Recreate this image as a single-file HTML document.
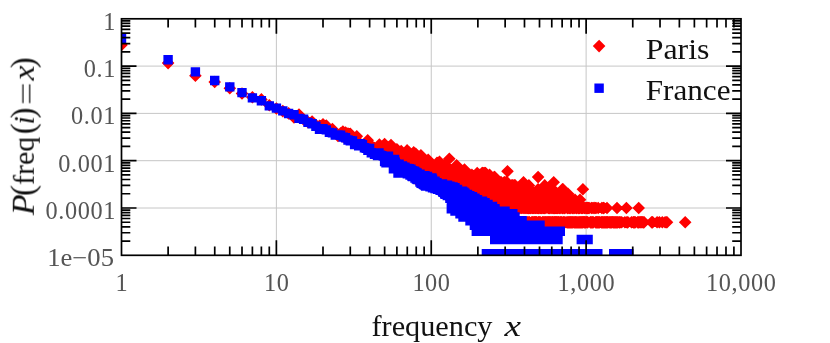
<!DOCTYPE html>
<html><head><meta charset="utf-8"><title>chart</title>
<style>
html,body{margin:0;padding:0;background:#fff;}
body{width:830px;height:343px;overflow:hidden;}
svg{display:block;font-family:"Liberation Serif",serif;}
.t{filter:grayscale(1);}
</style></head><body>
<svg width="830" height="343" viewBox="0 0 830 343">
<rect width="830" height="343" fill="#fff"/>
<defs><clipPath id="c"><rect x="121.5" y="18.8" width="619.5" height="236.5"/></clipPath></defs>
<path d="M276.38 18.8V255.3M431.25 18.8V255.3M586.12 18.8V255.3M121.5 66.1H741.0M121.5 113.4H741.0M121.5 160.7H741.0M121.5 208.0H741.0" stroke="#c6c6c6" stroke-width="1" fill="none"/>
<g clip-path="url(#c)">
<path d="M121.5 38.6l6.3 6.3l-6.3 6.3l-6.3-6.3zM168.1 56.8l6.3 6.3l-6.3 6.3l-6.3-6.3zM195.4 69.5l6.3 6.3l-6.3 6.3l-6.3-6.3zM214.7 75.7l6.3 6.3l-6.3 6.3l-6.3-6.3zM229.8 82.0l6.3 6.3l-6.3 6.3l-6.3-6.3zM242.0 87.2l6.3 6.3l-6.3 6.3l-6.3-6.3zM252.4 90.9l6.3 6.3l-6.3 6.3l-6.3-6.3zM261.4 93.1l6.3 6.3l-6.3 6.3l-6.3-6.3zM269.3 99.0l6.3 6.3l-6.3 6.3l-6.3-6.3zM276.4 102.2l6.3 6.3l-6.3 6.3l-6.3-6.3zM282.8 104.8l6.3 6.3l-6.3 6.3l-6.3-6.3zM288.6 107.1l6.3 6.3l-6.3 6.3l-6.3-6.3zM294.0 111.2l6.3 6.3l-6.3 6.3l-6.3-6.3zM299.0 108.3l6.3 6.3l-6.3 6.3l-6.3-6.3zM303.6 113.1l6.3 6.3l-6.3 6.3l-6.3-6.3zM308.0 115.8l6.3 6.3l-6.3 6.3l-6.3-6.3zM312.1 115.2l6.3 6.3l-6.3 6.3l-6.3-6.3zM315.9 118.8l6.3 6.3l-6.3 6.3l-6.3-6.3zM319.5 119.6l6.3 6.3l-6.3 6.3l-6.3-6.3zM323.0 117.9l6.3 6.3l-6.3 6.3l-6.3-6.3zM326.3 119.2l6.3 6.3l-6.3 6.3l-6.3-6.3zM329.4 122.8l6.3 6.3l-6.3 6.3l-6.3-6.3zM332.4 122.8l6.3 6.3l-6.3 6.3l-6.3-6.3zM335.3 125.9l6.3 6.3l-6.3 6.3l-6.3-6.3zM338.0 129.6l6.3 6.3l-6.3 6.3l-6.3-6.3zM340.6 127.0l6.3 6.3l-6.3 6.3l-6.3-6.3zM343.2 130.5l6.3 6.3l-6.3 6.3l-6.3-6.3zM345.6 126.2l6.3 6.3l-6.3 6.3l-6.3-6.3zM348.0 127.2l6.3 6.3l-6.3 6.3l-6.3-6.3zM350.3 127.5l6.3 6.3l-6.3 6.3l-6.3-6.3zM356.7 134.4l6.3 6.3l-6.3 6.3l-6.3-6.3zM358.7 137.7l6.3 6.3l-6.3 6.3l-6.3-6.3zM360.6 137.7l6.3 6.3l-6.3 6.3l-6.3-6.3zM362.5 140.2l6.3 6.3l-6.3 6.3l-6.3-6.3zM364.4 138.2l6.3 6.3l-6.3 6.3l-6.3-6.3zM366.2 137.3l6.3 6.3l-6.3 6.3l-6.3-6.3zM367.9 142.3l6.3 6.3l-6.3 6.3l-6.3-6.3zM371.3 139.2l6.3 6.3l-6.3 6.3l-6.3-6.3zM372.9 143.5l6.3 6.3l-6.3 6.3l-6.3-6.3zM374.5 141.8l6.3 6.3l-6.3 6.3l-6.3-6.3zM376.0 142.9l6.3 6.3l-6.3 6.3l-6.3-6.3zM377.5 143.5l6.3 6.3l-6.3 6.3l-6.3-6.3zM379.0 142.9l6.3 6.3l-6.3 6.3l-6.3-6.3zM381.9 148.2l6.3 6.3l-6.3 6.3l-6.3-6.3zM383.3 144.7l6.3 6.3l-6.3 6.3l-6.3-6.3zM384.6 137.7l6.3 6.3l-6.3 6.3l-6.3-6.3zM386.0 144.1l6.3 6.3l-6.3 6.3l-6.3-6.3zM387.3 144.1l6.3 6.3l-6.3 6.3l-6.3-6.3zM388.5 144.7l6.3 6.3l-6.3 6.3l-6.3-6.3zM389.8 148.2l6.3 6.3l-6.3 6.3l-6.3-6.3zM391.0 153.4l6.3 6.3l-6.3 6.3l-6.3-6.3zM392.3 147.5l6.3 6.3l-6.3 6.3l-6.3-6.3zM393.4 147.5l6.3 6.3l-6.3 6.3l-6.3-6.3zM394.6 146.1l6.3 6.3l-6.3 6.3l-6.3-6.3zM395.8 150.7l6.3 6.3l-6.3 6.3l-6.3-6.3zM396.9 142.9l6.3 6.3l-6.3 6.3l-6.3-6.3zM399.1 152.4l6.3 6.3l-6.3 6.3l-6.3-6.3zM400.2 146.8l6.3 6.3l-6.3 6.3l-6.3-6.3zM401.2 150.7l6.3 6.3l-6.3 6.3l-6.3-6.3zM402.3 150.7l6.3 6.3l-6.3 6.3l-6.3-6.3zM404.3 149.8l6.3 6.3l-6.3 6.3l-6.3-6.3zM405.3 152.4l6.3 6.3l-6.3 6.3l-6.3-6.3zM406.3 153.4l6.3 6.3l-6.3 6.3l-6.3-6.3zM407.3 160.3l6.3 6.3l-6.3 6.3l-6.3-6.3zM408.2 157.7l6.3 6.3l-6.3 6.3l-6.3-6.3zM409.2 146.1l6.3 6.3l-6.3 6.3l-6.3-6.3zM410.1 148.2l6.3 6.3l-6.3 6.3l-6.3-6.3zM411.0 152.4l6.3 6.3l-6.3 6.3l-6.3-6.3zM411.9 154.4l6.3 6.3l-6.3 6.3l-6.3-6.3zM412.8 154.4l6.3 6.3l-6.3 6.3l-6.3-6.3zM413.7 146.1l6.3 6.3l-6.3 6.3l-6.3-6.3zM414.5 161.7l6.3 6.3l-6.3 6.3l-6.3-6.3zM415.4 155.5l6.3 6.3l-6.3 6.3l-6.3-6.3zM416.2 173.2l6.3 6.3l-6.3 6.3l-6.3-6.3zM417.1 159.0l6.3 6.3l-6.3 6.3l-6.3-6.3zM417.9 155.5l6.3 6.3l-6.3 6.3l-6.3-6.3zM418.7 164.9l6.3 6.3l-6.3 6.3l-6.3-6.3zM419.5 159.0l6.3 6.3l-6.3 6.3l-6.3-6.3zM420.3 153.4l6.3 6.3l-6.3 6.3l-6.3-6.3zM421.1 151.5l6.3 6.3l-6.3 6.3l-6.3-6.3zM421.9 161.7l6.3 6.3l-6.3 6.3l-6.3-6.3zM422.7 166.7l6.3 6.3l-6.3 6.3l-6.3-6.3zM423.4 154.4l6.3 6.3l-6.3 6.3l-6.3-6.3zM424.9 157.7l6.3 6.3l-6.3 6.3l-6.3-6.3zM426.4 159.0l6.3 6.3l-6.3 6.3l-6.3-6.3zM427.1 161.7l6.3 6.3l-6.3 6.3l-6.3-6.3zM427.8 164.9l6.3 6.3l-6.3 6.3l-6.3-6.3zM428.5 163.2l6.3 6.3l-6.3 6.3l-6.3-6.3zM429.2 155.5l6.3 6.3l-6.3 6.3l-6.3-6.3zM429.9 164.9l6.3 6.3l-6.3 6.3l-6.3-6.3zM430.6 156.6l6.3 6.3l-6.3 6.3l-6.3-6.3zM431.2 156.6l6.3 6.3l-6.3 6.3l-6.3-6.3zM431.9 160.3l6.3 6.3l-6.3 6.3l-6.3-6.3zM432.6 166.7l6.3 6.3l-6.3 6.3l-6.3-6.3zM433.2 160.3l6.3 6.3l-6.3 6.3l-6.3-6.3zM433.9 160.3l6.3 6.3l-6.3 6.3l-6.3-6.3zM434.5 168.6l6.3 6.3l-6.3 6.3l-6.3-6.3zM435.2 168.6l6.3 6.3l-6.3 6.3l-6.3-6.3zM435.8 168.6l6.3 6.3l-6.3 6.3l-6.3-6.3zM436.4 161.7l6.3 6.3l-6.3 6.3l-6.3-6.3zM437.0 156.6l6.3 6.3l-6.3 6.3l-6.3-6.3zM437.7 163.2l6.3 6.3l-6.3 6.3l-6.3-6.3zM438.3 159.0l6.3 6.3l-6.3 6.3l-6.3-6.3zM438.9 176.0l6.3 6.3l-6.3 6.3l-6.3-6.3zM439.5 155.5l6.3 6.3l-6.3 6.3l-6.3-6.3zM440.1 168.6l6.3 6.3l-6.3 6.3l-6.3-6.3zM440.7 161.7l6.3 6.3l-6.3 6.3l-6.3-6.3zM441.2 159.0l6.3 6.3l-6.3 6.3l-6.3-6.3zM441.8 161.7l6.3 6.3l-6.3 6.3l-6.3-6.3zM442.4 164.9l6.3 6.3l-6.3 6.3l-6.3-6.3zM443.0 166.7l6.3 6.3l-6.3 6.3l-6.3-6.3zM443.5 161.7l6.3 6.3l-6.3 6.3l-6.3-6.3zM444.1 173.2l6.3 6.3l-6.3 6.3l-6.3-6.3zM444.6 159.0l6.3 6.3l-6.3 6.3l-6.3-6.3zM445.2 160.3l6.3 6.3l-6.3 6.3l-6.3-6.3zM446.3 161.7l6.3 6.3l-6.3 6.3l-6.3-6.3zM446.8 163.2l6.3 6.3l-6.3 6.3l-6.3-6.3zM447.3 168.6l6.3 6.3l-6.3 6.3l-6.3-6.3zM448.4 168.6l6.3 6.3l-6.3 6.3l-6.3-6.3zM448.9 161.7l6.3 6.3l-6.3 6.3l-6.3-6.3zM449.4 168.6l6.3 6.3l-6.3 6.3l-6.3-6.3zM449.9 176.0l6.3 6.3l-6.3 6.3l-6.3-6.3zM450.9 193.4l6.3 6.3l-6.3 6.3l-6.3-6.3zM451.4 187.5l6.3 6.3l-6.3 6.3l-6.3-6.3zM451.9 168.6l6.3 6.3l-6.3 6.3l-6.3-6.3zM452.4 166.7l6.3 6.3l-6.3 6.3l-6.3-6.3zM452.9 179.1l6.3 6.3l-6.3 6.3l-6.3-6.3zM453.4 182.9l6.3 6.3l-6.3 6.3l-6.3-6.3zM453.9 168.6l6.3 6.3l-6.3 6.3l-6.3-6.3zM454.4 187.5l6.3 6.3l-6.3 6.3l-6.3-6.3zM454.8 163.2l6.3 6.3l-6.3 6.3l-6.3-6.3zM455.3 176.0l6.3 6.3l-6.3 6.3l-6.3-6.3zM455.8 173.2l6.3 6.3l-6.3 6.3l-6.3-6.3zM456.7 187.5l6.3 6.3l-6.3 6.3l-6.3-6.3zM457.2 173.2l6.3 6.3l-6.3 6.3l-6.3-6.3zM457.6 179.1l6.3 6.3l-6.3 6.3l-6.3-6.3zM458.5 173.2l6.3 6.3l-6.3 6.3l-6.3-6.3zM459.0 164.9l6.3 6.3l-6.3 6.3l-6.3-6.3zM459.4 170.8l6.3 6.3l-6.3 6.3l-6.3-6.3zM459.9 179.1l6.3 6.3l-6.3 6.3l-6.3-6.3zM460.3 173.2l6.3 6.3l-6.3 6.3l-6.3-6.3zM460.7 182.9l6.3 6.3l-6.3 6.3l-6.3-6.3zM461.2 182.9l6.3 6.3l-6.3 6.3l-6.3-6.3zM461.6 176.0l6.3 6.3l-6.3 6.3l-6.3-6.3zM462.0 168.6l6.3 6.3l-6.3 6.3l-6.3-6.3zM462.4 164.9l6.3 6.3l-6.3 6.3l-6.3-6.3zM462.9 179.1l6.3 6.3l-6.3 6.3l-6.3-6.3zM463.3 187.5l6.3 6.3l-6.3 6.3l-6.3-6.3zM463.7 173.2l6.3 6.3l-6.3 6.3l-6.3-6.3zM464.1 173.2l6.3 6.3l-6.3 6.3l-6.3-6.3zM464.5 163.2l6.3 6.3l-6.3 6.3l-6.3-6.3zM464.9 170.8l6.3 6.3l-6.3 6.3l-6.3-6.3zM465.3 176.0l6.3 6.3l-6.3 6.3l-6.3-6.3zM465.7 179.1l6.3 6.3l-6.3 6.3l-6.3-6.3zM466.1 173.2l6.3 6.3l-6.3 6.3l-6.3-6.3zM466.5 179.1l6.3 6.3l-6.3 6.3l-6.3-6.3zM466.9 176.0l6.3 6.3l-6.3 6.3l-6.3-6.3zM467.3 170.8l6.3 6.3l-6.3 6.3l-6.3-6.3zM467.7 168.6l6.3 6.3l-6.3 6.3l-6.3-6.3zM468.1 187.5l6.3 6.3l-6.3 6.3l-6.3-6.3zM468.5 176.0l6.3 6.3l-6.3 6.3l-6.3-6.3zM468.9 182.9l6.3 6.3l-6.3 6.3l-6.3-6.3zM469.3 173.2l6.3 6.3l-6.3 6.3l-6.3-6.3zM470.0 168.6l6.3 6.3l-6.3 6.3l-6.3-6.3zM470.4 176.0l6.3 6.3l-6.3 6.3l-6.3-6.3zM470.8 201.7l6.3 6.3l-6.3 6.3l-6.3-6.3zM471.2 179.1l6.3 6.3l-6.3 6.3l-6.3-6.3zM471.5 179.1l6.3 6.3l-6.3 6.3l-6.3-6.3zM471.9 168.6l6.3 6.3l-6.3 6.3l-6.3-6.3zM472.3 170.8l6.3 6.3l-6.3 6.3l-6.3-6.3zM472.6 179.1l6.3 6.3l-6.3 6.3l-6.3-6.3zM473.0 182.9l6.3 6.3l-6.3 6.3l-6.3-6.3zM473.4 182.9l6.3 6.3l-6.3 6.3l-6.3-6.3zM473.7 176.0l6.3 6.3l-6.3 6.3l-6.3-6.3zM474.1 179.1l6.3 6.3l-6.3 6.3l-6.3-6.3zM474.4 179.1l6.3 6.3l-6.3 6.3l-6.3-6.3zM474.8 176.0l6.3 6.3l-6.3 6.3l-6.3-6.3zM475.1 187.5l6.3 6.3l-6.3 6.3l-6.3-6.3zM475.5 176.0l6.3 6.3l-6.3 6.3l-6.3-6.3zM475.8 182.9l6.3 6.3l-6.3 6.3l-6.3-6.3zM476.2 179.1l6.3 6.3l-6.3 6.3l-6.3-6.3zM476.5 176.0l6.3 6.3l-6.3 6.3l-6.3-6.3zM476.9 179.1l6.3 6.3l-6.3 6.3l-6.3-6.3zM477.2 166.7l6.3 6.3l-6.3 6.3l-6.3-6.3zM477.5 173.2l6.3 6.3l-6.3 6.3l-6.3-6.3zM477.9 176.0l6.3 6.3l-6.3 6.3l-6.3-6.3zM478.2 182.9l6.3 6.3l-6.3 6.3l-6.3-6.3zM478.5 182.9l6.3 6.3l-6.3 6.3l-6.3-6.3zM479.2 168.6l6.3 6.3l-6.3 6.3l-6.3-6.3zM479.5 179.1l6.3 6.3l-6.3 6.3l-6.3-6.3zM479.9 179.1l6.3 6.3l-6.3 6.3l-6.3-6.3zM480.5 187.5l6.3 6.3l-6.3 6.3l-6.3-6.3zM481.2 179.1l6.3 6.3l-6.3 6.3l-6.3-6.3zM482.1 166.7l6.3 6.3l-6.3 6.3l-6.3-6.3zM482.4 179.1l6.3 6.3l-6.3 6.3l-6.3-6.3zM482.7 166.7l6.3 6.3l-6.3 6.3l-6.3-6.3zM483.0 176.0l6.3 6.3l-6.3 6.3l-6.3-6.3zM483.4 193.4l6.3 6.3l-6.3 6.3l-6.3-6.3zM483.7 182.9l6.3 6.3l-6.3 6.3l-6.3-6.3zM484.0 182.9l6.3 6.3l-6.3 6.3l-6.3-6.3zM484.3 166.7l6.3 6.3l-6.3 6.3l-6.3-6.3zM484.6 170.8l6.3 6.3l-6.3 6.3l-6.3-6.3zM484.9 182.9l6.3 6.3l-6.3 6.3l-6.3-6.3zM485.2 176.0l6.3 6.3l-6.3 6.3l-6.3-6.3zM485.5 166.7l6.3 6.3l-6.3 6.3l-6.3-6.3zM485.8 193.4l6.3 6.3l-6.3 6.3l-6.3-6.3zM486.1 173.2l6.3 6.3l-6.3 6.3l-6.3-6.3zM486.4 201.7l6.3 6.3l-6.3 6.3l-6.3-6.3zM486.7 173.2l6.3 6.3l-6.3 6.3l-6.3-6.3zM487.0 173.2l6.3 6.3l-6.3 6.3l-6.3-6.3zM487.3 182.9l6.3 6.3l-6.3 6.3l-6.3-6.3zM487.6 170.8l6.3 6.3l-6.3 6.3l-6.3-6.3zM487.9 179.1l6.3 6.3l-6.3 6.3l-6.3-6.3zM488.1 176.0l6.3 6.3l-6.3 6.3l-6.3-6.3zM488.4 179.1l6.3 6.3l-6.3 6.3l-6.3-6.3zM488.7 173.2l6.3 6.3l-6.3 6.3l-6.3-6.3zM489.3 187.5l6.3 6.3l-6.3 6.3l-6.3-6.3zM489.6 168.6l6.3 6.3l-6.3 6.3l-6.3-6.3zM489.9 193.4l6.3 6.3l-6.3 6.3l-6.3-6.3zM490.1 182.9l6.3 6.3l-6.3 6.3l-6.3-6.3zM490.4 176.0l6.3 6.3l-6.3 6.3l-6.3-6.3zM490.7 193.4l6.3 6.3l-6.3 6.3l-6.3-6.3zM491.0 176.0l6.3 6.3l-6.3 6.3l-6.3-6.3zM491.2 176.0l6.3 6.3l-6.3 6.3l-6.3-6.3zM491.5 187.5l6.3 6.3l-6.3 6.3l-6.3-6.3zM491.8 215.9l6.3 6.3l-6.3 6.3l-6.3-6.3zM492.1 182.9l6.3 6.3l-6.3 6.3l-6.3-6.3zM492.3 173.2l6.3 6.3l-6.3 6.3l-6.3-6.3zM492.6 193.4l6.3 6.3l-6.3 6.3l-6.3-6.3zM492.9 187.5l6.3 6.3l-6.3 6.3l-6.3-6.3zM493.1 187.5l6.3 6.3l-6.3 6.3l-6.3-6.3zM493.4 193.4l6.3 6.3l-6.3 6.3l-6.3-6.3zM493.7 201.7l6.3 6.3l-6.3 6.3l-6.3-6.3zM493.9 193.4l6.3 6.3l-6.3 6.3l-6.3-6.3zM494.2 170.8l6.3 6.3l-6.3 6.3l-6.3-6.3zM494.5 182.9l6.3 6.3l-6.3 6.3l-6.3-6.3zM494.7 170.8l6.3 6.3l-6.3 6.3l-6.3-6.3zM495.0 179.1l6.3 6.3l-6.3 6.3l-6.3-6.3zM495.3 187.5l6.3 6.3l-6.3 6.3l-6.3-6.3zM495.5 201.7l6.3 6.3l-6.3 6.3l-6.3-6.3zM495.8 187.5l6.3 6.3l-6.3 6.3l-6.3-6.3zM496.0 187.5l6.3 6.3l-6.3 6.3l-6.3-6.3zM496.3 193.4l6.3 6.3l-6.3 6.3l-6.3-6.3zM496.8 187.5l6.3 6.3l-6.3 6.3l-6.3-6.3zM497.1 176.0l6.3 6.3l-6.3 6.3l-6.3-6.3zM497.3 179.1l6.3 6.3l-6.3 6.3l-6.3-6.3zM497.6 182.9l6.3 6.3l-6.3 6.3l-6.3-6.3zM497.8 201.7l6.3 6.3l-6.3 6.3l-6.3-6.3zM498.1 187.5l6.3 6.3l-6.3 6.3l-6.3-6.3zM498.3 176.0l6.3 6.3l-6.3 6.3l-6.3-6.3zM498.6 182.9l6.3 6.3l-6.3 6.3l-6.3-6.3zM498.8 215.9l6.3 6.3l-6.3 6.3l-6.3-6.3zM499.0 176.0l6.3 6.3l-6.3 6.3l-6.3-6.3zM499.3 179.1l6.3 6.3l-6.3 6.3l-6.3-6.3zM499.5 179.1l6.3 6.3l-6.3 6.3l-6.3-6.3zM499.8 176.0l6.3 6.3l-6.3 6.3l-6.3-6.3zM500.0 182.9l6.3 6.3l-6.3 6.3l-6.3-6.3zM500.3 201.7l6.3 6.3l-6.3 6.3l-6.3-6.3zM500.5 182.9l6.3 6.3l-6.3 6.3l-6.3-6.3zM501.0 201.7l6.3 6.3l-6.3 6.3l-6.3-6.3zM501.2 176.0l6.3 6.3l-6.3 6.3l-6.3-6.3zM501.5 182.9l6.3 6.3l-6.3 6.3l-6.3-6.3zM501.7 179.1l6.3 6.3l-6.3 6.3l-6.3-6.3zM501.9 201.7l6.3 6.3l-6.3 6.3l-6.3-6.3zM502.2 193.4l6.3 6.3l-6.3 6.3l-6.3-6.3zM502.4 182.9l6.3 6.3l-6.3 6.3l-6.3-6.3zM502.6 215.9l6.3 6.3l-6.3 6.3l-6.3-6.3zM502.9 179.1l6.3 6.3l-6.3 6.3l-6.3-6.3zM503.1 187.5l6.3 6.3l-6.3 6.3l-6.3-6.3zM503.3 187.5l6.3 6.3l-6.3 6.3l-6.3-6.3zM503.6 201.7l6.3 6.3l-6.3 6.3l-6.3-6.3zM503.8 193.4l6.3 6.3l-6.3 6.3l-6.3-6.3zM504.2 176.0l6.3 6.3l-6.3 6.3l-6.3-6.3zM504.5 176.0l6.3 6.3l-6.3 6.3l-6.3-6.3zM504.9 193.4l6.3 6.3l-6.3 6.3l-6.3-6.3zM505.1 187.5l6.3 6.3l-6.3 6.3l-6.3-6.3zM505.4 215.9l6.3 6.3l-6.3 6.3l-6.3-6.3zM505.6 182.9l6.3 6.3l-6.3 6.3l-6.3-6.3zM506.0 176.0l6.3 6.3l-6.3 6.3l-6.3-6.3zM506.5 179.1l6.3 6.3l-6.3 6.3l-6.3-6.3zM506.7 193.4l6.3 6.3l-6.3 6.3l-6.3-6.3zM506.9 193.4l6.3 6.3l-6.3 6.3l-6.3-6.3zM507.1 176.0l6.3 6.3l-6.3 6.3l-6.3-6.3zM507.3 193.4l6.3 6.3l-6.3 6.3l-6.3-6.3zM507.6 215.9l6.3 6.3l-6.3 6.3l-6.3-6.3zM508.0 193.4l6.3 6.3l-6.3 6.3l-6.3-6.3zM508.2 187.5l6.3 6.3l-6.3 6.3l-6.3-6.3zM508.6 201.7l6.3 6.3l-6.3 6.3l-6.3-6.3zM509.1 179.1l6.3 6.3l-6.3 6.3l-6.3-6.3zM509.3 215.9l6.3 6.3l-6.3 6.3l-6.3-6.3zM509.5 179.1l6.3 6.3l-6.3 6.3l-6.3-6.3zM509.9 187.5l6.3 6.3l-6.3 6.3l-6.3-6.3zM510.3 193.4l6.3 6.3l-6.3 6.3l-6.3-6.3zM510.5 201.7l6.3 6.3l-6.3 6.3l-6.3-6.3zM510.9 215.9l6.3 6.3l-6.3 6.3l-6.3-6.3zM511.1 201.7l6.3 6.3l-6.3 6.3l-6.3-6.3zM511.4 187.5l6.3 6.3l-6.3 6.3l-6.3-6.3zM511.6 187.5l6.3 6.3l-6.3 6.3l-6.3-6.3zM511.8 179.1l6.3 6.3l-6.3 6.3l-6.3-6.3zM512.0 215.9l6.3 6.3l-6.3 6.3l-6.3-6.3zM512.2 215.9l6.3 6.3l-6.3 6.3l-6.3-6.3zM512.6 187.5l6.3 6.3l-6.3 6.3l-6.3-6.3zM512.8 179.1l6.3 6.3l-6.3 6.3l-6.3-6.3zM513.0 201.7l6.3 6.3l-6.3 6.3l-6.3-6.3zM513.2 215.9l6.3 6.3l-6.3 6.3l-6.3-6.3zM513.4 193.4l6.3 6.3l-6.3 6.3l-6.3-6.3zM513.8 215.9l6.3 6.3l-6.3 6.3l-6.3-6.3zM514.0 182.9l6.3 6.3l-6.3 6.3l-6.3-6.3zM514.2 215.9l6.3 6.3l-6.3 6.3l-6.3-6.3zM514.3 179.1l6.3 6.3l-6.3 6.3l-6.3-6.3zM514.5 187.5l6.3 6.3l-6.3 6.3l-6.3-6.3zM514.7 193.4l6.3 6.3l-6.3 6.3l-6.3-6.3zM514.9 215.9l6.3 6.3l-6.3 6.3l-6.3-6.3zM515.1 179.1l6.3 6.3l-6.3 6.3l-6.3-6.3zM515.3 193.4l6.3 6.3l-6.3 6.3l-6.3-6.3zM515.7 215.9l6.3 6.3l-6.3 6.3l-6.3-6.3zM515.9 187.5l6.3 6.3l-6.3 6.3l-6.3-6.3zM516.1 193.4l6.3 6.3l-6.3 6.3l-6.3-6.3zM516.5 215.9l6.3 6.3l-6.3 6.3l-6.3-6.3zM516.7 201.7l6.3 6.3l-6.3 6.3l-6.3-6.3zM516.8 193.4l6.3 6.3l-6.3 6.3l-6.3-6.3zM517.0 182.9l6.3 6.3l-6.3 6.3l-6.3-6.3zM517.6 187.5l6.3 6.3l-6.3 6.3l-6.3-6.3zM517.8 215.9l6.3 6.3l-6.3 6.3l-6.3-6.3zM518.0 182.9l6.3 6.3l-6.3 6.3l-6.3-6.3zM518.2 193.4l6.3 6.3l-6.3 6.3l-6.3-6.3zM518.3 201.7l6.3 6.3l-6.3 6.3l-6.3-6.3zM518.7 187.5l6.3 6.3l-6.3 6.3l-6.3-6.3zM518.9 215.9l6.3 6.3l-6.3 6.3l-6.3-6.3zM519.1 193.4l6.3 6.3l-6.3 6.3l-6.3-6.3zM519.4 193.4l6.3 6.3l-6.3 6.3l-6.3-6.3zM519.6 182.9l6.3 6.3l-6.3 6.3l-6.3-6.3zM519.8 201.7l6.3 6.3l-6.3 6.3l-6.3-6.3zM520.0 201.7l6.3 6.3l-6.3 6.3l-6.3-6.3zM520.2 187.5l6.3 6.3l-6.3 6.3l-6.3-6.3zM520.5 215.9l6.3 6.3l-6.3 6.3l-6.3-6.3zM520.7 187.5l6.3 6.3l-6.3 6.3l-6.3-6.3zM521.0 182.9l6.3 6.3l-6.3 6.3l-6.3-6.3zM521.2 179.1l6.3 6.3l-6.3 6.3l-6.3-6.3zM521.4 215.9l6.3 6.3l-6.3 6.3l-6.3-6.3zM521.6 201.7l6.3 6.3l-6.3 6.3l-6.3-6.3zM521.9 193.4l6.3 6.3l-6.3 6.3l-6.3-6.3zM522.3 215.9l6.3 6.3l-6.3 6.3l-6.3-6.3zM522.4 215.9l6.3 6.3l-6.3 6.3l-6.3-6.3zM522.6 193.4l6.3 6.3l-6.3 6.3l-6.3-6.3zM523.0 215.9l6.3 6.3l-6.3 6.3l-6.3-6.3zM523.1 201.7l6.3 6.3l-6.3 6.3l-6.3-6.3zM523.5 182.9l6.3 6.3l-6.3 6.3l-6.3-6.3zM523.6 215.9l6.3 6.3l-6.3 6.3l-6.3-6.3zM524.2 201.7l6.3 6.3l-6.3 6.3l-6.3-6.3zM524.5 193.4l6.3 6.3l-6.3 6.3l-6.3-6.3zM524.8 215.9l6.3 6.3l-6.3 6.3l-6.3-6.3zM525.0 187.5l6.3 6.3l-6.3 6.3l-6.3-6.3zM525.3 201.7l6.3 6.3l-6.3 6.3l-6.3-6.3zM525.5 215.9l6.3 6.3l-6.3 6.3l-6.3-6.3zM525.7 193.4l6.3 6.3l-6.3 6.3l-6.3-6.3zM526.0 215.9l6.3 6.3l-6.3 6.3l-6.3-6.3zM526.2 193.4l6.3 6.3l-6.3 6.3l-6.3-6.3zM526.3 201.7l6.3 6.3l-6.3 6.3l-6.3-6.3zM526.6 193.4l6.3 6.3l-6.3 6.3l-6.3-6.3zM527.1 187.5l6.3 6.3l-6.3 6.3l-6.3-6.3zM527.5 201.7l6.3 6.3l-6.3 6.3l-6.3-6.3zM527.6 215.9l6.3 6.3l-6.3 6.3l-6.3-6.3zM527.9 215.9l6.3 6.3l-6.3 6.3l-6.3-6.3zM528.3 201.7l6.3 6.3l-6.3 6.3l-6.3-6.3zM528.4 215.9l6.3 6.3l-6.3 6.3l-6.3-6.3zM528.7 201.7l6.3 6.3l-6.3 6.3l-6.3-6.3zM528.9 179.1l6.3 6.3l-6.3 6.3l-6.3-6.3zM529.4 215.9l6.3 6.3l-6.3 6.3l-6.3-6.3zM529.5 215.9l6.3 6.3l-6.3 6.3l-6.3-6.3zM529.7 201.7l6.3 6.3l-6.3 6.3l-6.3-6.3zM530.1 182.9l6.3 6.3l-6.3 6.3l-6.3-6.3zM530.3 201.7l6.3 6.3l-6.3 6.3l-6.3-6.3zM530.8 201.7l6.3 6.3l-6.3 6.3l-6.3-6.3zM530.9 193.4l6.3 6.3l-6.3 6.3l-6.3-6.3zM531.4 193.4l6.3 6.3l-6.3 6.3l-6.3-6.3zM531.7 215.9l6.3 6.3l-6.3 6.3l-6.3-6.3zM532.0 201.7l6.3 6.3l-6.3 6.3l-6.3-6.3zM532.3 215.9l6.3 6.3l-6.3 6.3l-6.3-6.3zM532.6 215.9l6.3 6.3l-6.3 6.3l-6.3-6.3zM532.9 201.7l6.3 6.3l-6.3 6.3l-6.3-6.3zM533.3 187.5l6.3 6.3l-6.3 6.3l-6.3-6.3zM533.5 193.4l6.3 6.3l-6.3 6.3l-6.3-6.3zM533.6 215.9l6.3 6.3l-6.3 6.3l-6.3-6.3zM533.7 201.7l6.3 6.3l-6.3 6.3l-6.3-6.3zM533.9 193.4l6.3 6.3l-6.3 6.3l-6.3-6.3zM534.0 187.5l6.3 6.3l-6.3 6.3l-6.3-6.3zM534.2 215.9l6.3 6.3l-6.3 6.3l-6.3-6.3zM534.3 201.7l6.3 6.3l-6.3 6.3l-6.3-6.3zM534.6 215.9l6.3 6.3l-6.3 6.3l-6.3-6.3zM534.9 193.4l6.3 6.3l-6.3 6.3l-6.3-6.3zM535.2 215.9l6.3 6.3l-6.3 6.3l-6.3-6.3zM535.5 201.7l6.3 6.3l-6.3 6.3l-6.3-6.3zM535.6 187.5l6.3 6.3l-6.3 6.3l-6.3-6.3zM535.8 215.9l6.3 6.3l-6.3 6.3l-6.3-6.3zM535.9 193.4l6.3 6.3l-6.3 6.3l-6.3-6.3zM536.2 193.4l6.3 6.3l-6.3 6.3l-6.3-6.3zM536.3 201.7l6.3 6.3l-6.3 6.3l-6.3-6.3zM536.5 215.9l6.3 6.3l-6.3 6.3l-6.3-6.3zM536.8 215.9l6.3 6.3l-6.3 6.3l-6.3-6.3zM536.9 187.5l6.3 6.3l-6.3 6.3l-6.3-6.3zM537.5 201.7l6.3 6.3l-6.3 6.3l-6.3-6.3zM538.0 187.5l6.3 6.3l-6.3 6.3l-6.3-6.3zM538.1 182.9l6.3 6.3l-6.3 6.3l-6.3-6.3zM538.3 201.7l6.3 6.3l-6.3 6.3l-6.3-6.3zM538.4 215.9l6.3 6.3l-6.3 6.3l-6.3-6.3zM538.6 215.9l6.3 6.3l-6.3 6.3l-6.3-6.3zM538.7 201.7l6.3 6.3l-6.3 6.3l-6.3-6.3zM539.0 187.5l6.3 6.3l-6.3 6.3l-6.3-6.3zM539.2 215.9l6.3 6.3l-6.3 6.3l-6.3-6.3zM539.5 187.5l6.3 6.3l-6.3 6.3l-6.3-6.3zM539.8 201.7l6.3 6.3l-6.3 6.3l-6.3-6.3zM539.9 215.9l6.3 6.3l-6.3 6.3l-6.3-6.3zM540.4 215.9l6.3 6.3l-6.3 6.3l-6.3-6.3zM540.7 201.7l6.3 6.3l-6.3 6.3l-6.3-6.3zM540.8 187.5l6.3 6.3l-6.3 6.3l-6.3-6.3zM541.2 201.7l6.3 6.3l-6.3 6.3l-6.3-6.3zM541.4 193.4l6.3 6.3l-6.3 6.3l-6.3-6.3zM541.6 193.4l6.3 6.3l-6.3 6.3l-6.3-6.3zM541.8 201.7l6.3 6.3l-6.3 6.3l-6.3-6.3zM542.1 187.5l6.3 6.3l-6.3 6.3l-6.3-6.3zM542.3 193.4l6.3 6.3l-6.3 6.3l-6.3-6.3zM542.4 215.9l6.3 6.3l-6.3 6.3l-6.3-6.3zM542.8 215.9l6.3 6.3l-6.3 6.3l-6.3-6.3zM542.9 201.7l6.3 6.3l-6.3 6.3l-6.3-6.3zM543.5 201.7l6.3 6.3l-6.3 6.3l-6.3-6.3zM543.7 215.9l6.3 6.3l-6.3 6.3l-6.3-6.3zM543.9 215.9l6.3 6.3l-6.3 6.3l-6.3-6.3zM544.1 193.4l6.3 6.3l-6.3 6.3l-6.3-6.3zM544.2 201.7l6.3 6.3l-6.3 6.3l-6.3-6.3zM544.6 215.9l6.3 6.3l-6.3 6.3l-6.3-6.3zM544.7 201.7l6.3 6.3l-6.3 6.3l-6.3-6.3zM545.2 187.5l6.3 6.3l-6.3 6.3l-6.3-6.3zM545.3 193.4l6.3 6.3l-6.3 6.3l-6.3-6.3zM545.4 215.9l6.3 6.3l-6.3 6.3l-6.3-6.3zM545.8 215.9l6.3 6.3l-6.3 6.3l-6.3-6.3zM545.9 201.7l6.3 6.3l-6.3 6.3l-6.3-6.3zM546.2 193.4l6.3 6.3l-6.3 6.3l-6.3-6.3zM546.6 215.9l6.3 6.3l-6.3 6.3l-6.3-6.3zM547.0 215.9l6.3 6.3l-6.3 6.3l-6.3-6.3zM547.6 193.4l6.3 6.3l-6.3 6.3l-6.3-6.3zM547.7 215.9l6.3 6.3l-6.3 6.3l-6.3-6.3zM547.8 182.9l6.3 6.3l-6.3 6.3l-6.3-6.3zM548.1 201.7l6.3 6.3l-6.3 6.3l-6.3-6.3zM548.3 182.9l6.3 6.3l-6.3 6.3l-6.3-6.3zM548.4 215.9l6.3 6.3l-6.3 6.3l-6.3-6.3zM548.8 215.9l6.3 6.3l-6.3 6.3l-6.3-6.3zM549.0 201.7l6.3 6.3l-6.3 6.3l-6.3-6.3zM549.4 201.7l6.3 6.3l-6.3 6.3l-6.3-6.3zM549.5 215.9l6.3 6.3l-6.3 6.3l-6.3-6.3zM549.6 187.5l6.3 6.3l-6.3 6.3l-6.3-6.3zM549.7 182.9l6.3 6.3l-6.3 6.3l-6.3-6.3zM549.9 215.9l6.3 6.3l-6.3 6.3l-6.3-6.3zM550.1 201.7l6.3 6.3l-6.3 6.3l-6.3-6.3zM550.5 215.9l6.3 6.3l-6.3 6.3l-6.3-6.3zM551.4 215.9l6.3 6.3l-6.3 6.3l-6.3-6.3zM551.7 201.7l6.3 6.3l-6.3 6.3l-6.3-6.3zM551.9 187.5l6.3 6.3l-6.3 6.3l-6.3-6.3zM552.0 193.4l6.3 6.3l-6.3 6.3l-6.3-6.3zM552.2 215.9l6.3 6.3l-6.3 6.3l-6.3-6.3zM552.3 201.7l6.3 6.3l-6.3 6.3l-6.3-6.3zM552.8 215.9l6.3 6.3l-6.3 6.3l-6.3-6.3zM552.9 182.9l6.3 6.3l-6.3 6.3l-6.3-6.3zM553.1 215.9l6.3 6.3l-6.3 6.3l-6.3-6.3zM553.3 201.7l6.3 6.3l-6.3 6.3l-6.3-6.3zM553.4 187.5l6.3 6.3l-6.3 6.3l-6.3-6.3zM553.9 201.7l6.3 6.3l-6.3 6.3l-6.3-6.3zM554.0 215.9l6.3 6.3l-6.3 6.3l-6.3-6.3zM554.2 215.9l6.3 6.3l-6.3 6.3l-6.3-6.3zM554.5 201.7l6.3 6.3l-6.3 6.3l-6.3-6.3zM554.8 201.7l6.3 6.3l-6.3 6.3l-6.3-6.3zM554.9 215.9l6.3 6.3l-6.3 6.3l-6.3-6.3zM555.0 193.4l6.3 6.3l-6.3 6.3l-6.3-6.3zM555.5 215.9l6.3 6.3l-6.3 6.3l-6.3-6.3zM555.6 201.7l6.3 6.3l-6.3 6.3l-6.3-6.3zM556.1 215.9l6.3 6.3l-6.3 6.3l-6.3-6.3zM556.5 201.7l6.3 6.3l-6.3 6.3l-6.3-6.3zM556.7 215.9l6.3 6.3l-6.3 6.3l-6.3-6.3zM557.1 201.7l6.3 6.3l-6.3 6.3l-6.3-6.3zM557.6 215.9l6.3 6.3l-6.3 6.3l-6.3-6.3zM557.8 215.9l6.3 6.3l-6.3 6.3l-6.3-6.3zM557.9 201.7l6.3 6.3l-6.3 6.3l-6.3-6.3zM558.4 215.9l6.3 6.3l-6.3 6.3l-6.3-6.3zM558.8 187.5l6.3 6.3l-6.3 6.3l-6.3-6.3zM559.0 215.9l6.3 6.3l-6.3 6.3l-6.3-6.3zM559.1 201.7l6.3 6.3l-6.3 6.3l-6.3-6.3zM559.6 201.7l6.3 6.3l-6.3 6.3l-6.3-6.3zM560.2 201.7l6.3 6.3l-6.3 6.3l-6.3-6.3zM560.4 215.9l6.3 6.3l-6.3 6.3l-6.3-6.3zM560.8 187.5l6.3 6.3l-6.3 6.3l-6.3-6.3zM560.9 215.9l6.3 6.3l-6.3 6.3l-6.3-6.3zM561.4 215.9l6.3 6.3l-6.3 6.3l-6.3-6.3zM561.6 193.4l6.3 6.3l-6.3 6.3l-6.3-6.3zM561.9 215.9l6.3 6.3l-6.3 6.3l-6.3-6.3zM562.1 193.4l6.3 6.3l-6.3 6.3l-6.3-6.3zM562.2 201.7l6.3 6.3l-6.3 6.3l-6.3-6.3zM562.5 201.7l6.3 6.3l-6.3 6.3l-6.3-6.3zM562.8 193.4l6.3 6.3l-6.3 6.3l-6.3-6.3zM563.2 201.7l6.3 6.3l-6.3 6.3l-6.3-6.3zM563.4 215.9l6.3 6.3l-6.3 6.3l-6.3-6.3zM563.5 193.4l6.3 6.3l-6.3 6.3l-6.3-6.3zM563.8 215.9l6.3 6.3l-6.3 6.3l-6.3-6.3zM564.5 201.7l6.3 6.3l-6.3 6.3l-6.3-6.3zM564.6 193.4l6.3 6.3l-6.3 6.3l-6.3-6.3zM564.7 215.9l6.3 6.3l-6.3 6.3l-6.3-6.3zM565.0 201.7l6.3 6.3l-6.3 6.3l-6.3-6.3zM565.0 215.9l6.3 6.3l-6.3 6.3l-6.3-6.3zM566.8 215.9l6.3 6.3l-6.3 6.3l-6.3-6.3zM567.2 201.7l6.3 6.3l-6.3 6.3l-6.3-6.3zM567.4 201.7l6.3 6.3l-6.3 6.3l-6.3-6.3zM567.6 215.9l6.3 6.3l-6.3 6.3l-6.3-6.3zM568.0 201.7l6.3 6.3l-6.3 6.3l-6.3-6.3zM568.1 215.9l6.3 6.3l-6.3 6.3l-6.3-6.3zM568.5 193.4l6.3 6.3l-6.3 6.3l-6.3-6.3zM568.5 215.9l6.3 6.3l-6.3 6.3l-6.3-6.3zM568.6 193.4l6.3 6.3l-6.3 6.3l-6.3-6.3zM569.2 201.7l6.3 6.3l-6.3 6.3l-6.3-6.3zM569.5 215.9l6.3 6.3l-6.3 6.3l-6.3-6.3zM569.6 193.4l6.3 6.3l-6.3 6.3l-6.3-6.3zM569.8 215.9l6.3 6.3l-6.3 6.3l-6.3-6.3zM570.1 201.7l6.3 6.3l-6.3 6.3l-6.3-6.3zM570.4 201.7l6.3 6.3l-6.3 6.3l-6.3-6.3zM570.5 215.9l6.3 6.3l-6.3 6.3l-6.3-6.3zM570.6 193.4l6.3 6.3l-6.3 6.3l-6.3-6.3zM571.0 193.4l6.3 6.3l-6.3 6.3l-6.3-6.3zM571.1 215.9l6.3 6.3l-6.3 6.3l-6.3-6.3zM571.5 215.9l6.3 6.3l-6.3 6.3l-6.3-6.3zM572.3 215.9l6.3 6.3l-6.3 6.3l-6.3-6.3zM572.4 201.7l6.3 6.3l-6.3 6.3l-6.3-6.3zM572.8 215.9l6.3 6.3l-6.3 6.3l-6.3-6.3zM572.9 201.7l6.3 6.3l-6.3 6.3l-6.3-6.3zM573.2 193.4l6.3 6.3l-6.3 6.3l-6.3-6.3zM573.3 201.7l6.3 6.3l-6.3 6.3l-6.3-6.3zM573.5 193.4l6.3 6.3l-6.3 6.3l-6.3-6.3zM573.8 215.9l6.3 6.3l-6.3 6.3l-6.3-6.3zM573.9 215.9l6.3 6.3l-6.3 6.3l-6.3-6.3zM574.6 215.9l6.3 6.3l-6.3 6.3l-6.3-6.3zM574.6 201.7l6.3 6.3l-6.3 6.3l-6.3-6.3zM575.1 215.9l6.3 6.3l-6.3 6.3l-6.3-6.3zM575.7 215.9l6.3 6.3l-6.3 6.3l-6.3-6.3zM576.1 201.7l6.3 6.3l-6.3 6.3l-6.3-6.3zM576.5 201.7l6.3 6.3l-6.3 6.3l-6.3-6.3zM576.6 215.9l6.3 6.3l-6.3 6.3l-6.3-6.3zM576.9 215.9l6.3 6.3l-6.3 6.3l-6.3-6.3zM577.9 215.9l6.3 6.3l-6.3 6.3l-6.3-6.3zM578.1 201.7l6.3 6.3l-6.3 6.3l-6.3-6.3zM578.4 201.7l6.3 6.3l-6.3 6.3l-6.3-6.3zM578.4 215.9l6.3 6.3l-6.3 6.3l-6.3-6.3zM579.0 201.7l6.3 6.3l-6.3 6.3l-6.3-6.3zM579.3 215.9l6.3 6.3l-6.3 6.3l-6.3-6.3zM579.3 215.9l6.3 6.3l-6.3 6.3l-6.3-6.3zM579.6 201.7l6.3 6.3l-6.3 6.3l-6.3-6.3zM580.0 215.9l6.3 6.3l-6.3 6.3l-6.3-6.3zM580.5 215.9l6.3 6.3l-6.3 6.3l-6.3-6.3zM581.2 215.9l6.3 6.3l-6.3 6.3l-6.3-6.3zM581.5 201.7l6.3 6.3l-6.3 6.3l-6.3-6.3zM581.9 215.9l6.3 6.3l-6.3 6.3l-6.3-6.3zM582.5 215.9l6.3 6.3l-6.3 6.3l-6.3-6.3zM582.5 201.7l6.3 6.3l-6.3 6.3l-6.3-6.3zM583.1 215.9l6.3 6.3l-6.3 6.3l-6.3-6.3zM584.2 215.9l6.3 6.3l-6.3 6.3l-6.3-6.3zM584.3 201.7l6.3 6.3l-6.3 6.3l-6.3-6.3zM584.8 215.9l6.3 6.3l-6.3 6.3l-6.3-6.3zM585.2 201.7l6.3 6.3l-6.3 6.3l-6.3-6.3zM585.4 215.9l6.3 6.3l-6.3 6.3l-6.3-6.3zM586.2 215.9l6.3 6.3l-6.3 6.3l-6.3-6.3zM586.3 201.7l6.3 6.3l-6.3 6.3l-6.3-6.3zM587.1 201.7l6.3 6.3l-6.3 6.3l-6.3-6.3zM587.3 215.9l6.3 6.3l-6.3 6.3l-6.3-6.3zM587.6 201.7l6.3 6.3l-6.3 6.3l-6.3-6.3zM587.8 215.9l6.3 6.3l-6.3 6.3l-6.3-6.3zM587.9 201.7l6.3 6.3l-6.3 6.3l-6.3-6.3zM588.4 201.7l6.3 6.3l-6.3 6.3l-6.3-6.3zM589.2 201.7l6.3 6.3l-6.3 6.3l-6.3-6.3zM590.2 215.9l6.3 6.3l-6.3 6.3l-6.3-6.3zM590.7 215.9l6.3 6.3l-6.3 6.3l-6.3-6.3zM591.4 201.7l6.3 6.3l-6.3 6.3l-6.3-6.3zM591.5 215.9l6.3 6.3l-6.3 6.3l-6.3-6.3zM592.4 215.9l6.3 6.3l-6.3 6.3l-6.3-6.3zM592.6 215.9l6.3 6.3l-6.3 6.3l-6.3-6.3zM593.1 201.7l6.3 6.3l-6.3 6.3l-6.3-6.3zM593.4 215.9l6.3 6.3l-6.3 6.3l-6.3-6.3zM594.8 201.7l6.3 6.3l-6.3 6.3l-6.3-6.3zM594.9 201.7l6.3 6.3l-6.3 6.3l-6.3-6.3zM595.5 215.9l6.3 6.3l-6.3 6.3l-6.3-6.3zM595.5 215.9l6.3 6.3l-6.3 6.3l-6.3-6.3zM596.0 201.7l6.3 6.3l-6.3 6.3l-6.3-6.3zM596.3 215.9l6.3 6.3l-6.3 6.3l-6.3-6.3zM596.9 215.9l6.3 6.3l-6.3 6.3l-6.3-6.3zM597.4 215.9l6.3 6.3l-6.3 6.3l-6.3-6.3zM597.9 215.9l6.3 6.3l-6.3 6.3l-6.3-6.3zM598.2 201.7l6.3 6.3l-6.3 6.3l-6.3-6.3zM598.5 215.9l6.3 6.3l-6.3 6.3l-6.3-6.3zM599.4 215.9l6.3 6.3l-6.3 6.3l-6.3-6.3zM599.7 215.9l6.3 6.3l-6.3 6.3l-6.3-6.3zM601.2 215.9l6.3 6.3l-6.3 6.3l-6.3-6.3zM601.8 201.7l6.3 6.3l-6.3 6.3l-6.3-6.3zM601.9 215.9l6.3 6.3l-6.3 6.3l-6.3-6.3zM602.3 215.9l6.3 6.3l-6.3 6.3l-6.3-6.3zM602.8 215.9l6.3 6.3l-6.3 6.3l-6.3-6.3zM603.4 215.9l6.3 6.3l-6.3 6.3l-6.3-6.3zM603.9 201.7l6.3 6.3l-6.3 6.3l-6.3-6.3zM604.4 215.9l6.3 6.3l-6.3 6.3l-6.3-6.3zM604.7 215.9l6.3 6.3l-6.3 6.3l-6.3-6.3zM605.2 215.9l6.3 6.3l-6.3 6.3l-6.3-6.3zM606.0 215.9l6.3 6.3l-6.3 6.3l-6.3-6.3zM606.4 215.9l6.3 6.3l-6.3 6.3l-6.3-6.3zM606.9 215.9l6.3 6.3l-6.3 6.3l-6.3-6.3zM607.0 201.7l6.3 6.3l-6.3 6.3l-6.3-6.3zM607.5 215.9l6.3 6.3l-6.3 6.3l-6.3-6.3zM608.1 215.9l6.3 6.3l-6.3 6.3l-6.3-6.3zM609.5 215.9l6.3 6.3l-6.3 6.3l-6.3-6.3zM610.0 215.9l6.3 6.3l-6.3 6.3l-6.3-6.3zM610.8 215.9l6.3 6.3l-6.3 6.3l-6.3-6.3zM611.6 215.9l6.3 6.3l-6.3 6.3l-6.3-6.3zM611.8 215.9l6.3 6.3l-6.3 6.3l-6.3-6.3zM612.9 215.9l6.3 6.3l-6.3 6.3l-6.3-6.3zM613.5 215.9l6.3 6.3l-6.3 6.3l-6.3-6.3zM614.4 215.9l6.3 6.3l-6.3 6.3l-6.3-6.3zM615.1 215.9l6.3 6.3l-6.3 6.3l-6.3-6.3zM615.9 215.9l6.3 6.3l-6.3 6.3l-6.3-6.3zM616.6 215.9l6.3 6.3l-6.3 6.3l-6.3-6.3zM617.6 215.9l6.3 6.3l-6.3 6.3l-6.3-6.3zM617.8 215.9l6.3 6.3l-6.3 6.3l-6.3-6.3zM619.1 215.9l6.3 6.3l-6.3 6.3l-6.3-6.3zM619.9 215.9l6.3 6.3l-6.3 6.3l-6.3-6.3zM620.2 215.9l6.3 6.3l-6.3 6.3l-6.3-6.3zM621.7 215.9l6.3 6.3l-6.3 6.3l-6.3-6.3zM624.9 215.9l6.3 6.3l-6.3 6.3l-6.3-6.3zM626.9 215.9l6.3 6.3l-6.3 6.3l-6.3-6.3zM627.9 215.9l6.3 6.3l-6.3 6.3l-6.3-6.3zM631.5 215.9l6.3 6.3l-6.3 6.3l-6.3-6.3zM633.2 215.9l6.3 6.3l-6.3 6.3l-6.3-6.3zM633.4 215.9l6.3 6.3l-6.3 6.3l-6.3-6.3zM634.1 215.9l6.3 6.3l-6.3 6.3l-6.3-6.3zM634.9 215.9l6.3 6.3l-6.3 6.3l-6.3-6.3zM635.3 215.9l6.3 6.3l-6.3 6.3l-6.3-6.3zM637.6 215.9l6.3 6.3l-6.3 6.3l-6.3-6.3zM638.4 215.9l6.3 6.3l-6.3 6.3l-6.3-6.3zM639.2 215.9l6.3 6.3l-6.3 6.3l-6.3-6.3zM640.5 215.9l6.3 6.3l-6.3 6.3l-6.3-6.3zM641.6 215.9l6.3 6.3l-6.3 6.3l-6.3-6.3zM642.8 215.9l6.3 6.3l-6.3 6.3l-6.3-6.3zM643.1 215.9l6.3 6.3l-6.3 6.3l-6.3-6.3zM644.1 215.9l6.3 6.3l-6.3 6.3l-6.3-6.3zM651.6 215.9l6.3 6.3l-6.3 6.3l-6.3-6.3zM652.3 215.9l6.3 6.3l-6.3 6.3l-6.3-6.3zM652.7 215.9l6.3 6.3l-6.3 6.3l-6.3-6.3zM657.1 215.9l6.3 6.3l-6.3 6.3l-6.3-6.3zM659.4 215.9l6.3 6.3l-6.3 6.3l-6.3-6.3zM662.3 215.9l6.3 6.3l-6.3 6.3l-6.3-6.3zM665.1 215.9l6.3 6.3l-6.3 6.3l-6.3-6.3zM666.7 215.9l6.3 6.3l-6.3 6.3l-6.3-6.3zM342.9 125.2l6.3 6.3l-6.3 6.3l-6.3-6.3zM350.2 128.1l6.3 6.3l-6.3 6.3l-6.3-6.3zM356.8 129.9l6.3 6.3l-6.3 6.3l-6.3-6.3zM367.7 134.0l6.3 6.3l-6.3 6.3l-6.3-6.3zM379.4 138.2l6.3 6.3l-6.3 6.3l-6.3-6.3zM391.0 138.7l6.3 6.3l-6.3 6.3l-6.3-6.3zM401.2 144.7l6.3 6.3l-6.3 6.3l-6.3-6.3zM407.1 144.1l6.3 6.3l-6.3 6.3l-6.3-6.3zM415.8 147.5l6.3 6.3l-6.3 6.3l-6.3-6.3zM420.9 149.0l6.3 6.3l-6.3 6.3l-6.3-6.3zM428.2 153.4l6.3 6.3l-6.3 6.3l-6.3-6.3zM449.3 152.4l6.3 6.3l-6.3 6.3l-6.3-6.3zM456.6 159.0l6.3 6.3l-6.3 6.3l-6.3-6.3zM507.5 164.9l6.3 6.3l-6.3 6.3l-6.3-6.3zM538.1 170.8l6.3 6.3l-6.3 6.3l-6.3-6.3zM523.5 176.0l6.3 6.3l-6.3 6.3l-6.3-6.3zM553.7 176.0l6.3 6.3l-6.3 6.3l-6.3-6.3zM562.4 182.9l6.3 6.3l-6.3 6.3l-6.3-6.3zM582.9 182.9l6.3 6.3l-6.3 6.3l-6.3-6.3zM563.0 182.9l6.3 6.3l-6.3 6.3l-6.3-6.3zM544.7 179.1l6.3 6.3l-6.3 6.3l-6.3-6.3zM603.5 201.7l6.3 6.3l-6.3 6.3l-6.3-6.3zM617.0 201.7l6.3 6.3l-6.3 6.3l-6.3-6.3zM626.4 201.7l6.3 6.3l-6.3 6.3l-6.3-6.3zM638.7 201.7l6.3 6.3l-6.3 6.3l-6.3-6.3zM667.0 215.9l6.3 6.3l-6.3 6.3l-6.3-6.3zM685.2 215.9l6.3 6.3l-6.3 6.3l-6.3-6.3zM580.0 193.4l6.3 6.3l-6.3 6.3l-6.3-6.3zM571.6 193.4l6.3 6.3l-6.3 6.3l-6.3-6.3zM575.0 193.4l6.3 6.3l-6.3 6.3l-6.3-6.3zM568.0 187.5l6.3 6.3l-6.3 6.3l-6.3-6.3z" fill="#f00"/>
<path d="M116.8 33.8h9.4v9.4h-9.4zM163.4 55.0h9.4v9.4h-9.4zM190.7 67.2h9.4v9.4h-9.4zM210.0 75.8h9.4v9.4h-9.4zM225.1 82.2h9.4v9.4h-9.4zM237.3 87.9h9.4v9.4h-9.4zM247.7 93.2h9.4v9.4h-9.4zM256.7 96.1h9.4v9.4h-9.4zM264.6 101.2h9.4v9.4h-9.4zM271.7 103.4h9.4v9.4h-9.4zM278.1 106.2h9.4v9.4h-9.4zM283.9 108.8h9.4v9.4h-9.4zM289.3 110.1h9.4v9.4h-9.4zM294.3 113.7h9.4v9.4h-9.4zM298.9 114.5h9.4v9.4h-9.4zM303.3 117.7h9.4v9.4h-9.4zM307.4 119.1h9.4v9.4h-9.4zM311.2 121.5h9.4v9.4h-9.4zM314.8 124.7h9.4v9.4h-9.4zM318.3 123.9h9.4v9.4h-9.4zM321.6 125.2h9.4v9.4h-9.4zM324.7 127.7h9.4v9.4h-9.4zM327.7 128.2h9.4v9.4h-9.4zM330.6 130.3h9.4v9.4h-9.4zM333.3 130.3h9.4v9.4h-9.4zM335.9 130.6h9.4v9.4h-9.4zM338.5 132.4h9.4v9.4h-9.4zM340.9 133.0h9.4v9.4h-9.4zM343.3 135.3h9.4v9.4h-9.4zM345.6 136.0h9.4v9.4h-9.4zM347.8 136.2h9.4v9.4h-9.4zM349.9 139.8h9.4v9.4h-9.4zM352.0 139.6h9.4v9.4h-9.4zM354.0 141.2h9.4v9.4h-9.4zM355.9 139.1h9.4v9.4h-9.4zM357.8 140.0h9.4v9.4h-9.4zM359.7 143.1h9.4v9.4h-9.4zM361.5 143.6h9.4v9.4h-9.4zM363.2 145.5h9.4v9.4h-9.4zM364.9 143.7h9.4v9.4h-9.4zM366.6 148.0h9.4v9.4h-9.4zM368.2 148.2h9.4v9.4h-9.4zM369.8 149.6h9.4v9.4h-9.4zM371.3 149.4h9.4v9.4h-9.4zM372.8 150.9h9.4v9.4h-9.4zM374.3 148.3h9.4v9.4h-9.4zM375.8 150.4h9.4v9.4h-9.4zM377.2 150.9h9.4v9.4h-9.4zM378.6 151.4h9.4v9.4h-9.4zM379.9 156.9h9.4v9.4h-9.4zM381.3 158.1h9.4v9.4h-9.4zM382.6 154.7h9.4v9.4h-9.4zM383.8 151.6h9.4v9.4h-9.4zM385.1 156.0h9.4v9.4h-9.4zM386.3 156.0h9.4v9.4h-9.4zM387.6 155.5h9.4v9.4h-9.4zM388.7 164.0h9.4v9.4h-9.4zM389.9 154.7h9.4v9.4h-9.4zM391.1 159.1h9.4v9.4h-9.4zM392.2 161.8h9.4v9.4h-9.4zM393.3 168.3h9.4v9.4h-9.4zM394.4 159.6h9.4v9.4h-9.4zM395.5 163.0h9.4v9.4h-9.4zM396.5 163.3h9.4v9.4h-9.4zM398.6 162.4h9.4v9.4h-9.4zM399.6 165.0h9.4v9.4h-9.4zM401.6 167.9h9.4v9.4h-9.4zM402.6 169.1h9.4v9.4h-9.4zM403.5 168.3h9.4v9.4h-9.4zM404.5 164.0h9.4v9.4h-9.4zM405.4 169.6h9.4v9.4h-9.4zM406.3 164.6h9.4v9.4h-9.4zM407.2 171.4h9.4v9.4h-9.4zM408.1 166.4h9.4v9.4h-9.4zM409.0 168.3h9.4v9.4h-9.4zM409.8 166.4h9.4v9.4h-9.4zM410.7 170.4h9.4v9.4h-9.4zM411.5 170.4h9.4v9.4h-9.4zM412.4 168.3h9.4v9.4h-9.4zM414.0 174.9h9.4v9.4h-9.4zM414.8 173.3h9.4v9.4h-9.4zM416.4 178.5h9.4v9.4h-9.4zM417.2 174.4h9.4v9.4h-9.4zM418.0 177.9h9.4v9.4h-9.4zM418.7 175.5h9.4v9.4h-9.4zM419.5 174.4h9.4v9.4h-9.4zM420.2 172.3h9.4v9.4h-9.4zM420.9 181.4h9.4v9.4h-9.4zM421.7 178.5h9.4v9.4h-9.4zM422.4 174.9h9.4v9.4h-9.4zM423.1 173.3h9.4v9.4h-9.4zM424.5 174.4h9.4v9.4h-9.4zM427.2 178.5h9.4v9.4h-9.4zM428.5 180.6h9.4v9.4h-9.4zM429.2 177.9h9.4v9.4h-9.4zM429.8 180.6h9.4v9.4h-9.4zM430.5 181.4h9.4v9.4h-9.4zM431.1 179.9h9.4v9.4h-9.4zM434.2 180.6h9.4v9.4h-9.4zM435.4 185.6h9.4v9.4h-9.4zM438.3 187.5h9.4v9.4h-9.4zM439.4 186.5h9.4v9.4h-9.4zM439.9 188.6h9.4v9.4h-9.4zM441.6 183.8h9.4v9.4h-9.4zM442.1 187.5h9.4v9.4h-9.4zM442.6 190.9h9.4v9.4h-9.4zM443.2 185.6h9.4v9.4h-9.4zM443.7 187.5h9.4v9.4h-9.4zM444.2 186.5h9.4v9.4h-9.4zM444.7 189.7h9.4v9.4h-9.4zM445.7 186.5h9.4v9.4h-9.4zM446.2 189.7h9.4v9.4h-9.4zM446.7 194.9h9.4v9.4h-9.4zM447.2 186.5h9.4v9.4h-9.4zM447.7 198.0h9.4v9.4h-9.4zM448.7 183.8h9.4v9.4h-9.4zM449.2 189.7h9.4v9.4h-9.4zM449.7 204.0h9.4v9.4h-9.4zM450.1 185.6h9.4v9.4h-9.4zM450.6 193.5h9.4v9.4h-9.4zM451.1 194.9h9.4v9.4h-9.4zM451.5 189.7h9.4v9.4h-9.4zM452.0 193.5h9.4v9.4h-9.4zM452.5 192.1h9.4v9.4h-9.4zM452.9 189.7h9.4v9.4h-9.4zM453.4 198.0h9.4v9.4h-9.4zM453.8 193.5h9.4v9.4h-9.4zM454.7 190.9h9.4v9.4h-9.4zM455.2 194.9h9.4v9.4h-9.4zM455.6 193.5h9.4v9.4h-9.4zM456.0 196.4h9.4v9.4h-9.4zM456.5 199.8h9.4v9.4h-9.4zM456.9 201.8h9.4v9.4h-9.4zM457.7 199.8h9.4v9.4h-9.4zM458.2 199.8h9.4v9.4h-9.4zM458.6 194.9h9.4v9.4h-9.4zM459.0 209.1h9.4v9.4h-9.4zM459.4 193.5h9.4v9.4h-9.4zM459.8 201.8h9.4v9.4h-9.4zM460.2 209.1h9.4v9.4h-9.4zM460.6 204.0h9.4v9.4h-9.4zM461.0 206.4h9.4v9.4h-9.4zM461.8 212.3h9.4v9.4h-9.4zM462.2 196.4h9.4v9.4h-9.4zM463.4 199.8h9.4v9.4h-9.4zM463.8 196.4h9.4v9.4h-9.4zM464.2 209.1h9.4v9.4h-9.4zM464.6 204.0h9.4v9.4h-9.4zM465.3 216.0h9.4v9.4h-9.4zM465.7 194.9h9.4v9.4h-9.4zM466.1 204.0h9.4v9.4h-9.4zM466.5 209.1h9.4v9.4h-9.4zM466.8 212.3h9.4v9.4h-9.4zM467.6 209.1h9.4v9.4h-9.4zM467.9 196.4h9.4v9.4h-9.4zM468.3 201.8h9.4v9.4h-9.4zM468.7 212.3h9.4v9.4h-9.4zM469.0 212.3h9.4v9.4h-9.4zM469.4 209.1h9.4v9.4h-9.4zM469.7 220.6h9.4v9.4h-9.4zM470.4 216.0h9.4v9.4h-9.4zM470.8 201.8h9.4v9.4h-9.4zM471.1 206.4h9.4v9.4h-9.4zM471.5 220.6h9.4v9.4h-9.4zM472.2 198.0h9.4v9.4h-9.4zM472.5 220.6h9.4v9.4h-9.4zM472.8 206.4h9.4v9.4h-9.4zM473.2 209.1h9.4v9.4h-9.4zM473.5 209.1h9.4v9.4h-9.4zM474.2 216.0h9.4v9.4h-9.4zM474.5 220.6h9.4v9.4h-9.4zM474.8 220.6h9.4v9.4h-9.4zM475.2 216.0h9.4v9.4h-9.4zM476.1 206.4h9.4v9.4h-9.4zM476.5 212.3h9.4v9.4h-9.4zM476.8 216.0h9.4v9.4h-9.4zM477.1 226.5h9.4v9.4h-9.4zM477.4 209.1h9.4v9.4h-9.4zM477.7 206.4h9.4v9.4h-9.4zM478.3 220.6h9.4v9.4h-9.4zM478.7 226.5h9.4v9.4h-9.4zM479.0 209.1h9.4v9.4h-9.4zM479.3 206.4h9.4v9.4h-9.4zM479.6 220.6h9.4v9.4h-9.4zM479.9 206.4h9.4v9.4h-9.4zM480.2 212.3h9.4v9.4h-9.4zM480.5 226.5h9.4v9.4h-9.4zM480.8 220.6h9.4v9.4h-9.4zM481.1 212.3h9.4v9.4h-9.4zM481.7 249.1h9.4v9.4h-9.4zM482.0 249.1h9.4v9.4h-9.4zM482.3 226.5h9.4v9.4h-9.4zM482.6 206.4h9.4v9.4h-9.4zM482.9 209.1h9.4v9.4h-9.4zM483.2 206.4h9.4v9.4h-9.4zM483.4 216.0h9.4v9.4h-9.4zM483.7 226.5h9.4v9.4h-9.4zM484.0 212.3h9.4v9.4h-9.4zM484.6 212.3h9.4v9.4h-9.4zM485.2 220.6h9.4v9.4h-9.4zM485.4 216.0h9.4v9.4h-9.4zM485.7 216.0h9.4v9.4h-9.4zM486.0 220.6h9.4v9.4h-9.4zM486.3 209.1h9.4v9.4h-9.4zM486.8 206.4h9.4v9.4h-9.4zM487.1 220.6h9.4v9.4h-9.4zM487.9 216.0h9.4v9.4h-9.4zM488.2 220.6h9.4v9.4h-9.4zM488.4 226.5h9.4v9.4h-9.4zM489.2 206.4h9.4v9.4h-9.4zM490.0 234.8h9.4v9.4h-9.4zM490.3 226.5h9.4v9.4h-9.4zM490.6 234.8h9.4v9.4h-9.4zM491.1 226.5h9.4v9.4h-9.4zM491.3 216.0h9.4v9.4h-9.4zM491.6 226.5h9.4v9.4h-9.4zM491.8 216.0h9.4v9.4h-9.4zM492.4 234.8h9.4v9.4h-9.4zM492.6 212.3h9.4v9.4h-9.4zM492.9 209.1h9.4v9.4h-9.4zM493.1 226.5h9.4v9.4h-9.4zM493.4 216.0h9.4v9.4h-9.4zM493.9 234.8h9.4v9.4h-9.4zM494.1 220.6h9.4v9.4h-9.4zM494.3 226.5h9.4v9.4h-9.4zM494.6 216.0h9.4v9.4h-9.4zM494.8 249.1h9.4v9.4h-9.4zM495.1 234.8h9.4v9.4h-9.4zM495.3 226.5h9.4v9.4h-9.4zM495.8 220.6h9.4v9.4h-9.4zM496.0 234.8h9.4v9.4h-9.4zM496.5 209.1h9.4v9.4h-9.4zM496.8 226.5h9.4v9.4h-9.4zM497.0 216.0h9.4v9.4h-9.4zM497.5 212.3h9.4v9.4h-9.4zM497.7 212.3h9.4v9.4h-9.4zM497.9 249.1h9.4v9.4h-9.4zM498.2 220.6h9.4v9.4h-9.4zM498.4 234.8h9.4v9.4h-9.4zM498.9 226.5h9.4v9.4h-9.4zM499.3 220.6h9.4v9.4h-9.4zM499.5 249.1h9.4v9.4h-9.4zM499.8 216.0h9.4v9.4h-9.4zM500.0 249.1h9.4v9.4h-9.4zM500.2 234.8h9.4v9.4h-9.4zM500.7 226.5h9.4v9.4h-9.4zM501.1 249.1h9.4v9.4h-9.4zM501.3 216.0h9.4v9.4h-9.4zM501.6 234.8h9.4v9.4h-9.4zM502.0 226.5h9.4v9.4h-9.4zM502.2 220.6h9.4v9.4h-9.4zM502.4 220.6h9.4v9.4h-9.4zM502.6 226.5h9.4v9.4h-9.4zM503.1 234.8h9.4v9.4h-9.4zM503.5 226.5h9.4v9.4h-9.4zM503.7 249.1h9.4v9.4h-9.4zM503.9 234.8h9.4v9.4h-9.4zM504.8 212.3h9.4v9.4h-9.4zM505.0 234.8h9.4v9.4h-9.4zM505.6 249.1h9.4v9.4h-9.4zM506.0 234.8h9.4v9.4h-9.4zM506.2 220.6h9.4v9.4h-9.4zM507.1 226.5h9.4v9.4h-9.4zM507.3 216.0h9.4v9.4h-9.4zM507.5 234.8h9.4v9.4h-9.4zM507.7 249.1h9.4v9.4h-9.4zM508.5 234.8h9.4v9.4h-9.4zM508.7 226.5h9.4v9.4h-9.4zM509.6 249.1h9.4v9.4h-9.4zM509.8 234.8h9.4v9.4h-9.4zM510.0 226.5h9.4v9.4h-9.4zM511.0 234.8h9.4v9.4h-9.4zM512.0 226.5h9.4v9.4h-9.4zM512.1 234.8h9.4v9.4h-9.4zM512.3 249.1h9.4v9.4h-9.4zM512.9 220.6h9.4v9.4h-9.4zM513.5 234.8h9.4v9.4h-9.4zM514.0 220.6h9.4v9.4h-9.4zM514.2 249.1h9.4v9.4h-9.4zM514.6 249.1h9.4v9.4h-9.4zM514.9 226.5h9.4v9.4h-9.4zM515.1 216.0h9.4v9.4h-9.4zM515.5 234.8h9.4v9.4h-9.4zM515.6 234.8h9.4v9.4h-9.4zM516.0 249.1h9.4v9.4h-9.4zM516.9 220.6h9.4v9.4h-9.4zM517.0 234.8h9.4v9.4h-9.4zM517.2 226.5h9.4v9.4h-9.4zM517.4 216.0h9.4v9.4h-9.4zM517.6 249.1h9.4v9.4h-9.4zM517.9 249.1h9.4v9.4h-9.4zM518.1 226.5h9.4v9.4h-9.4zM518.4 234.8h9.4v9.4h-9.4zM519.1 226.5h9.4v9.4h-9.4zM519.5 234.8h9.4v9.4h-9.4zM519.8 249.1h9.4v9.4h-9.4zM520.6 249.1h9.4v9.4h-9.4zM520.8 226.5h9.4v9.4h-9.4zM521.0 220.6h9.4v9.4h-9.4zM521.3 234.8h9.4v9.4h-9.4zM521.6 234.8h9.4v9.4h-9.4zM521.8 249.1h9.4v9.4h-9.4zM521.9 226.5h9.4v9.4h-9.4zM522.8 249.1h9.4v9.4h-9.4zM522.9 220.6h9.4v9.4h-9.4zM523.9 226.5h9.4v9.4h-9.4zM524.0 249.1h9.4v9.4h-9.4zM524.5 226.5h9.4v9.4h-9.4zM525.1 249.1h9.4v9.4h-9.4zM525.4 234.8h9.4v9.4h-9.4zM525.7 226.5h9.4v9.4h-9.4zM526.4 234.8h9.4v9.4h-9.4zM526.7 249.1h9.4v9.4h-9.4zM528.0 234.8h9.4v9.4h-9.4zM528.2 249.1h9.4v9.4h-9.4zM528.9 234.8h9.4v9.4h-9.4zM529.2 249.1h9.4v9.4h-9.4zM529.9 249.1h9.4v9.4h-9.4zM530.1 234.8h9.4v9.4h-9.4zM530.4 226.5h9.4v9.4h-9.4zM531.2 249.1h9.4v9.4h-9.4zM531.9 234.8h9.4v9.4h-9.4zM532.1 226.5h9.4v9.4h-9.4zM532.3 249.1h9.4v9.4h-9.4zM532.5 234.8h9.4v9.4h-9.4zM533.4 226.5h9.4v9.4h-9.4zM533.7 249.1h9.4v9.4h-9.4zM534.7 226.5h9.4v9.4h-9.4zM534.8 249.1h9.4v9.4h-9.4zM534.9 234.8h9.4v9.4h-9.4zM535.1 226.5h9.4v9.4h-9.4zM536.0 234.8h9.4v9.4h-9.4zM536.3 226.5h9.4v9.4h-9.4zM536.7 249.1h9.4v9.4h-9.4zM537.2 234.8h9.4v9.4h-9.4zM537.4 249.1h9.4v9.4h-9.4zM538.8 249.1h9.4v9.4h-9.4zM539.4 234.8h9.4v9.4h-9.4zM539.6 249.1h9.4v9.4h-9.4zM539.7 234.8h9.4v9.4h-9.4zM540.6 226.5h9.4v9.4h-9.4zM541.0 249.1h9.4v9.4h-9.4zM541.1 234.8h9.4v9.4h-9.4zM541.8 226.5h9.4v9.4h-9.4zM542.1 249.1h9.4v9.4h-9.4zM542.2 234.8h9.4v9.4h-9.4zM542.9 226.5h9.4v9.4h-9.4zM543.1 234.8h9.4v9.4h-9.4zM543.4 249.1h9.4v9.4h-9.4zM544.3 249.1h9.4v9.4h-9.4zM544.7 234.8h9.4v9.4h-9.4zM545.9 249.1h9.4v9.4h-9.4zM546.2 226.5h9.4v9.4h-9.4zM546.8 249.1h9.4v9.4h-9.4zM547.1 234.8h9.4v9.4h-9.4zM548.1 234.8h9.4v9.4h-9.4zM548.3 249.1h9.4v9.4h-9.4zM549.3 249.1h9.4v9.4h-9.4zM549.9 234.8h9.4v9.4h-9.4zM550.7 249.1h9.4v9.4h-9.4zM550.8 234.8h9.4v9.4h-9.4zM551.6 249.1h9.4v9.4h-9.4zM553.6 249.1h9.4v9.4h-9.4zM553.9 226.5h9.4v9.4h-9.4zM554.1 226.5h9.4v9.4h-9.4zM554.7 249.1h9.4v9.4h-9.4zM555.2 249.1h9.4v9.4h-9.4zM557.1 249.1h9.4v9.4h-9.4zM557.8 249.1h9.4v9.4h-9.4zM559.3 249.1h9.4v9.4h-9.4zM560.3 249.1h9.4v9.4h-9.4zM561.6 249.1h9.4v9.4h-9.4zM562.4 249.1h9.4v9.4h-9.4zM563.7 249.1h9.4v9.4h-9.4zM564.9 249.1h9.4v9.4h-9.4zM566.5 249.1h9.4v9.4h-9.4zM567.2 249.1h9.4v9.4h-9.4zM568.3 249.1h9.4v9.4h-9.4zM570.7 249.1h9.4v9.4h-9.4zM571.0 249.1h9.4v9.4h-9.4zM572.0 249.1h9.4v9.4h-9.4zM573.1 249.1h9.4v9.4h-9.4zM574.4 249.1h9.4v9.4h-9.4zM575.7 249.1h9.4v9.4h-9.4zM577.1 249.1h9.4v9.4h-9.4zM578.6 249.1h9.4v9.4h-9.4zM579.2 249.1h9.4v9.4h-9.4zM581.0 249.1h9.4v9.4h-9.4zM581.6 249.1h9.4v9.4h-9.4zM583.1 249.1h9.4v9.4h-9.4zM584.4 249.1h9.4v9.4h-9.4zM586.7 249.1h9.4v9.4h-9.4zM587.5 249.1h9.4v9.4h-9.4zM589.0 249.1h9.4v9.4h-9.4zM590.1 249.1h9.4v9.4h-9.4zM411.7 174.4h9.4v9.4h-9.4zM419.0 179.9h9.4v9.4h-9.4zM429.2 183.0h9.4v9.4h-9.4zM445.2 193.5h9.4v9.4h-9.4zM446.6 204.0h9.4v9.4h-9.4zM458.3 212.3h9.4v9.4h-9.4zM467.0 216.0h9.4v9.4h-9.4zM471.6 226.5h9.4v9.4h-9.4zM390.6 157.6h9.4v9.4h-9.4zM411.0 167.5h9.4v9.4h-9.4zM427.2 173.3h9.4v9.4h-9.4zM432.3 177.9h9.4v9.4h-9.4zM448.3 182.2h9.4v9.4h-9.4zM459.2 187.5h9.4v9.4h-9.4zM465.1 190.9h9.4v9.4h-9.4zM474.5 196.4h9.4v9.4h-9.4zM483.3 199.8h9.4v9.4h-9.4zM492.0 206.4h9.4v9.4h-9.4zM508.1 209.1h9.4v9.4h-9.4zM532.2 220.6h9.4v9.4h-9.4zM555.6 226.5h9.4v9.4h-9.4zM553.3 234.8h9.4v9.4h-9.4zM576.6 234.8h9.4v9.4h-9.4zM583.4 234.8h9.4v9.4h-9.4zM593.1 249.1h9.4v9.4h-9.4zM609.0 249.1h9.4v9.4h-9.4zM613.8 249.1h9.4v9.4h-9.4zM619.3 249.1h9.4v9.4h-9.4zM624.1 249.1h9.4v9.4h-9.4zM395.3 164.0h9.4v9.4h-9.4zM395.3 162.4h9.4v9.4h-9.4zM395.3 161.2h9.4v9.4h-9.4zM397.8 165.7h9.4v9.4h-9.4zM397.8 165.0h9.4v9.4h-9.4zM397.8 163.7h9.4v9.4h-9.4zM397.8 162.4h9.4v9.4h-9.4zM397.8 161.2h9.4v9.4h-9.4zM400.3 167.1h9.4v9.4h-9.4zM400.3 166.0h9.4v9.4h-9.4zM400.3 165.0h9.4v9.4h-9.4zM400.3 163.7h9.4v9.4h-9.4zM400.3 162.4h9.4v9.4h-9.4zM402.8 168.7h9.4v9.4h-9.4zM402.8 167.1h9.4v9.4h-9.4zM402.8 166.0h9.4v9.4h-9.4zM402.8 165.0h9.4v9.4h-9.4zM402.8 163.7h9.4v9.4h-9.4zM405.3 170.4h9.4v9.4h-9.4zM405.3 168.3h9.4v9.4h-9.4zM405.3 167.1h9.4v9.4h-9.4zM405.3 166.0h9.4v9.4h-9.4zM407.8 171.8h9.4v9.4h-9.4zM407.8 170.9h9.4v9.4h-9.4zM407.8 169.6h9.4v9.4h-9.4zM407.8 168.3h9.4v9.4h-9.4zM407.8 166.0h9.4v9.4h-9.4zM410.3 173.3h9.4v9.4h-9.4zM410.3 171.8h9.4v9.4h-9.4zM410.3 169.6h9.4v9.4h-9.4zM412.8 174.9h9.4v9.4h-9.4zM412.8 174.4h9.4v9.4h-9.4zM412.8 173.3h9.4v9.4h-9.4zM412.8 171.8h9.4v9.4h-9.4zM412.8 170.9h9.4v9.4h-9.4zM412.8 169.6h9.4v9.4h-9.4zM415.3 177.3h9.4v9.4h-9.4zM415.3 176.6h9.4v9.4h-9.4zM415.3 175.5h9.4v9.4h-9.4zM415.3 174.4h9.4v9.4h-9.4zM415.3 171.8h9.4v9.4h-9.4zM415.3 170.9h9.4v9.4h-9.4zM415.3 169.6h9.4v9.4h-9.4zM417.8 179.2h9.4v9.4h-9.4zM417.8 176.6h9.4v9.4h-9.4zM417.8 175.5h9.4v9.4h-9.4zM417.8 173.3h9.4v9.4h-9.4zM417.8 171.8h9.4v9.4h-9.4zM417.8 170.9h9.4v9.4h-9.4zM420.3 180.6h9.4v9.4h-9.4zM420.3 179.2h9.4v9.4h-9.4zM420.3 177.9h9.4v9.4h-9.4zM420.3 176.6h9.4v9.4h-9.4zM420.3 175.5h9.4v9.4h-9.4zM420.3 174.4h9.4v9.4h-9.4zM420.3 171.8h9.4v9.4h-9.4zM420.3 170.9h9.4v9.4h-9.4zM422.8 181.4h9.4v9.4h-9.4zM422.8 180.6h9.4v9.4h-9.4zM422.8 179.2h9.4v9.4h-9.4zM422.8 177.9h9.4v9.4h-9.4zM422.8 176.6h9.4v9.4h-9.4zM422.8 174.4h9.4v9.4h-9.4zM422.8 171.8h9.4v9.4h-9.4zM425.3 182.2h9.4v9.4h-9.4zM425.3 181.4h9.4v9.4h-9.4zM425.3 180.6h9.4v9.4h-9.4zM425.3 179.2h9.4v9.4h-9.4zM425.3 177.9h9.4v9.4h-9.4zM425.3 176.6h9.4v9.4h-9.4zM425.3 175.5h9.4v9.4h-9.4zM425.3 173.3h9.4v9.4h-9.4zM427.8 183.0h9.4v9.4h-9.4zM427.8 181.4h9.4v9.4h-9.4zM427.8 180.6h9.4v9.4h-9.4zM427.8 177.9h9.4v9.4h-9.4zM427.8 176.6h9.4v9.4h-9.4zM427.8 175.5h9.4v9.4h-9.4zM427.8 174.4h9.4v9.4h-9.4zM430.3 183.8h9.4v9.4h-9.4zM430.3 181.4h9.4v9.4h-9.4zM430.3 179.2h9.4v9.4h-9.4zM430.3 176.6h9.4v9.4h-9.4zM432.8 184.7h9.4v9.4h-9.4zM432.8 183.8h9.4v9.4h-9.4zM432.8 183.0h9.4v9.4h-9.4zM432.8 181.4h9.4v9.4h-9.4zM432.8 180.6h9.4v9.4h-9.4zM432.8 179.2h9.4v9.4h-9.4zM435.3 184.7h9.4v9.4h-9.4zM435.3 183.8h9.4v9.4h-9.4zM435.3 183.0h9.4v9.4h-9.4zM435.3 181.4h9.4v9.4h-9.4zM435.3 180.6h9.4v9.4h-9.4zM435.3 179.2h9.4v9.4h-9.4zM437.8 186.5h9.4v9.4h-9.4zM437.8 184.7h9.4v9.4h-9.4zM437.8 183.8h9.4v9.4h-9.4zM437.8 183.0h9.4v9.4h-9.4zM437.8 181.4h9.4v9.4h-9.4zM437.8 180.6h9.4v9.4h-9.4zM437.8 179.2h9.4v9.4h-9.4zM440.3 189.7h9.4v9.4h-9.4zM440.3 187.5h9.4v9.4h-9.4zM440.3 186.5h9.4v9.4h-9.4zM440.3 184.7h9.4v9.4h-9.4zM440.3 183.8h9.4v9.4h-9.4zM440.3 183.0h9.4v9.4h-9.4zM440.3 181.4h9.4v9.4h-9.4zM440.3 180.6h9.4v9.4h-9.4zM442.8 189.7h9.4v9.4h-9.4zM442.8 188.6h9.4v9.4h-9.4zM442.8 187.5h9.4v9.4h-9.4zM442.8 184.7h9.4v9.4h-9.4zM442.8 183.8h9.4v9.4h-9.4zM442.8 183.0h9.4v9.4h-9.4zM442.8 181.4h9.4v9.4h-9.4zM442.8 180.6h9.4v9.4h-9.4zM445.3 192.1h9.4v9.4h-9.4zM445.3 190.9h9.4v9.4h-9.4zM445.3 188.6h9.4v9.4h-9.4zM445.3 187.5h9.4v9.4h-9.4zM445.3 184.7h9.4v9.4h-9.4zM445.3 183.8h9.4v9.4h-9.4zM445.3 183.0h9.4v9.4h-9.4zM445.3 181.4h9.4v9.4h-9.4zM447.8 204.0h9.4v9.4h-9.4zM447.8 201.8h9.4v9.4h-9.4zM447.8 199.8h9.4v9.4h-9.4zM447.8 196.4h9.4v9.4h-9.4zM447.8 194.9h9.4v9.4h-9.4zM447.8 193.5h9.4v9.4h-9.4zM447.8 192.1h9.4v9.4h-9.4zM447.8 190.9h9.4v9.4h-9.4zM447.8 189.7h9.4v9.4h-9.4zM447.8 188.6h9.4v9.4h-9.4zM447.8 187.5h9.4v9.4h-9.4zM447.8 184.7h9.4v9.4h-9.4zM447.8 183.8h9.4v9.4h-9.4zM447.8 183.0h9.4v9.4h-9.4zM450.3 206.4h9.4v9.4h-9.4zM450.3 201.8h9.4v9.4h-9.4zM450.3 199.8h9.4v9.4h-9.4zM450.3 198.0h9.4v9.4h-9.4zM450.3 196.4h9.4v9.4h-9.4zM450.3 194.9h9.4v9.4h-9.4zM450.3 192.1h9.4v9.4h-9.4zM450.3 190.9h9.4v9.4h-9.4zM450.3 189.7h9.4v9.4h-9.4zM450.3 188.6h9.4v9.4h-9.4zM450.3 187.5h9.4v9.4h-9.4zM450.3 184.7h9.4v9.4h-9.4zM450.3 183.8h9.4v9.4h-9.4zM450.3 183.0h9.4v9.4h-9.4zM452.8 206.4h9.4v9.4h-9.4zM452.8 204.0h9.4v9.4h-9.4zM452.8 201.8h9.4v9.4h-9.4zM452.8 199.8h9.4v9.4h-9.4zM452.8 198.0h9.4v9.4h-9.4zM452.8 196.4h9.4v9.4h-9.4zM452.8 194.9h9.4v9.4h-9.4zM452.8 190.9h9.4v9.4h-9.4zM452.8 188.6h9.4v9.4h-9.4zM452.8 187.5h9.4v9.4h-9.4zM452.8 186.5h9.4v9.4h-9.4zM452.8 184.7h9.4v9.4h-9.4zM455.3 209.1h9.4v9.4h-9.4zM455.3 206.4h9.4v9.4h-9.4zM455.3 204.0h9.4v9.4h-9.4zM455.3 201.8h9.4v9.4h-9.4zM455.3 199.8h9.4v9.4h-9.4zM455.3 198.0h9.4v9.4h-9.4zM455.3 196.4h9.4v9.4h-9.4zM455.3 193.5h9.4v9.4h-9.4zM455.3 192.1h9.4v9.4h-9.4zM455.3 189.7h9.4v9.4h-9.4zM455.3 188.6h9.4v9.4h-9.4zM455.3 187.5h9.4v9.4h-9.4zM455.3 186.5h9.4v9.4h-9.4zM457.8 209.1h9.4v9.4h-9.4zM457.8 206.4h9.4v9.4h-9.4zM457.8 204.0h9.4v9.4h-9.4zM457.8 198.0h9.4v9.4h-9.4zM457.8 196.4h9.4v9.4h-9.4zM457.8 194.9h9.4v9.4h-9.4zM457.8 193.5h9.4v9.4h-9.4zM457.8 192.1h9.4v9.4h-9.4zM457.8 190.9h9.4v9.4h-9.4zM457.8 189.7h9.4v9.4h-9.4zM457.8 188.6h9.4v9.4h-9.4zM457.8 187.5h9.4v9.4h-9.4zM457.8 186.5h9.4v9.4h-9.4zM460.3 212.3h9.4v9.4h-9.4zM460.3 209.1h9.4v9.4h-9.4zM460.3 201.8h9.4v9.4h-9.4zM460.3 199.8h9.4v9.4h-9.4zM460.3 198.0h9.4v9.4h-9.4zM460.3 196.4h9.4v9.4h-9.4zM460.3 194.9h9.4v9.4h-9.4zM460.3 193.5h9.4v9.4h-9.4zM460.3 192.1h9.4v9.4h-9.4zM460.3 190.9h9.4v9.4h-9.4zM460.3 189.7h9.4v9.4h-9.4zM460.3 188.6h9.4v9.4h-9.4zM462.8 212.3h9.4v9.4h-9.4zM462.8 209.1h9.4v9.4h-9.4zM462.8 206.4h9.4v9.4h-9.4zM462.8 204.0h9.4v9.4h-9.4zM462.8 201.8h9.4v9.4h-9.4zM462.8 198.0h9.4v9.4h-9.4zM462.8 194.9h9.4v9.4h-9.4zM462.8 193.5h9.4v9.4h-9.4zM462.8 192.1h9.4v9.4h-9.4zM462.8 190.9h9.4v9.4h-9.4zM462.8 189.7h9.4v9.4h-9.4zM465.3 212.3h9.4v9.4h-9.4zM465.3 209.1h9.4v9.4h-9.4zM465.3 206.4h9.4v9.4h-9.4zM465.3 201.8h9.4v9.4h-9.4zM465.3 199.8h9.4v9.4h-9.4zM465.3 198.0h9.4v9.4h-9.4zM465.3 196.4h9.4v9.4h-9.4zM465.3 193.5h9.4v9.4h-9.4zM465.3 192.1h9.4v9.4h-9.4zM467.8 216.0h9.4v9.4h-9.4zM467.8 206.4h9.4v9.4h-9.4zM467.8 204.0h9.4v9.4h-9.4zM467.8 199.8h9.4v9.4h-9.4zM467.8 198.0h9.4v9.4h-9.4zM467.8 194.9h9.4v9.4h-9.4zM467.8 193.5h9.4v9.4h-9.4zM467.8 192.1h9.4v9.4h-9.4zM470.3 220.6h9.4v9.4h-9.4zM470.3 212.3h9.4v9.4h-9.4zM470.3 209.1h9.4v9.4h-9.4zM470.3 206.4h9.4v9.4h-9.4zM470.3 204.0h9.4v9.4h-9.4zM470.3 199.8h9.4v9.4h-9.4zM470.3 198.0h9.4v9.4h-9.4zM470.3 196.4h9.4v9.4h-9.4zM470.3 194.9h9.4v9.4h-9.4zM470.3 193.5h9.4v9.4h-9.4zM472.8 226.5h9.4v9.4h-9.4zM472.8 216.0h9.4v9.4h-9.4zM472.8 212.3h9.4v9.4h-9.4zM472.8 204.0h9.4v9.4h-9.4zM472.8 201.8h9.4v9.4h-9.4zM472.8 199.8h9.4v9.4h-9.4zM472.8 198.0h9.4v9.4h-9.4zM472.8 196.4h9.4v9.4h-9.4zM472.8 194.9h9.4v9.4h-9.4zM475.3 226.5h9.4v9.4h-9.4zM475.3 212.3h9.4v9.4h-9.4zM475.3 209.1h9.4v9.4h-9.4zM475.3 206.4h9.4v9.4h-9.4zM475.3 204.0h9.4v9.4h-9.4zM475.3 201.8h9.4v9.4h-9.4zM475.3 199.8h9.4v9.4h-9.4zM475.3 198.0h9.4v9.4h-9.4zM475.3 196.4h9.4v9.4h-9.4zM477.8 226.5h9.4v9.4h-9.4zM477.8 220.6h9.4v9.4h-9.4zM477.8 216.0h9.4v9.4h-9.4zM477.8 212.3h9.4v9.4h-9.4zM477.8 204.0h9.4v9.4h-9.4zM477.8 201.8h9.4v9.4h-9.4zM477.8 199.8h9.4v9.4h-9.4zM477.8 198.0h9.4v9.4h-9.4zM477.8 196.4h9.4v9.4h-9.4zM480.3 216.0h9.4v9.4h-9.4zM480.3 209.1h9.4v9.4h-9.4zM480.3 204.0h9.4v9.4h-9.4zM480.3 201.8h9.4v9.4h-9.4zM480.3 199.8h9.4v9.4h-9.4zM480.3 198.0h9.4v9.4h-9.4zM482.8 220.6h9.4v9.4h-9.4zM482.8 216.0h9.4v9.4h-9.4zM482.8 212.3h9.4v9.4h-9.4zM482.8 204.0h9.4v9.4h-9.4zM482.8 201.8h9.4v9.4h-9.4zM482.8 199.8h9.4v9.4h-9.4zM485.3 249.1h9.4v9.4h-9.4zM485.3 226.5h9.4v9.4h-9.4zM485.3 209.1h9.4v9.4h-9.4zM485.3 206.4h9.4v9.4h-9.4zM485.3 204.0h9.4v9.4h-9.4zM485.3 201.8h9.4v9.4h-9.4zM487.8 249.1h9.4v9.4h-9.4zM487.8 226.5h9.4v9.4h-9.4zM487.8 216.0h9.4v9.4h-9.4zM487.8 212.3h9.4v9.4h-9.4zM487.8 209.1h9.4v9.4h-9.4zM487.8 204.0h9.4v9.4h-9.4zM487.8 201.8h9.4v9.4h-9.4zM490.3 249.1h9.4v9.4h-9.4zM490.3 220.6h9.4v9.4h-9.4zM490.3 216.0h9.4v9.4h-9.4zM490.3 212.3h9.4v9.4h-9.4zM490.3 209.1h9.4v9.4h-9.4zM490.3 204.0h9.4v9.4h-9.4zM492.8 249.1h9.4v9.4h-9.4zM492.8 220.6h9.4v9.4h-9.4zM492.8 212.3h9.4v9.4h-9.4zM492.8 206.4h9.4v9.4h-9.4zM495.3 249.1h9.4v9.4h-9.4zM495.3 216.0h9.4v9.4h-9.4zM495.3 212.3h9.4v9.4h-9.4zM495.3 209.1h9.4v9.4h-9.4zM495.3 206.4h9.4v9.4h-9.4zM497.8 226.5h9.4v9.4h-9.4zM497.8 216.0h9.4v9.4h-9.4zM497.8 209.1h9.4v9.4h-9.4zM497.8 206.4h9.4v9.4h-9.4zM500.3 220.6h9.4v9.4h-9.4zM500.3 216.0h9.4v9.4h-9.4zM500.3 212.3h9.4v9.4h-9.4zM500.3 209.1h9.4v9.4h-9.4zM500.3 206.4h9.4v9.4h-9.4zM502.8 249.1h9.4v9.4h-9.4zM502.8 216.0h9.4v9.4h-9.4zM502.8 212.3h9.4v9.4h-9.4zM502.8 209.1h9.4v9.4h-9.4zM505.3 226.5h9.4v9.4h-9.4zM505.3 220.6h9.4v9.4h-9.4zM505.3 216.0h9.4v9.4h-9.4zM505.3 209.1h9.4v9.4h-9.4zM507.8 226.5h9.4v9.4h-9.4zM507.8 220.6h9.4v9.4h-9.4zM507.8 212.3h9.4v9.4h-9.4zM510.3 220.6h9.4v9.4h-9.4zM510.3 216.0h9.4v9.4h-9.4zM510.3 212.3h9.4v9.4h-9.4zM512.8 216.0h9.4v9.4h-9.4zM515.3 220.6h9.4v9.4h-9.4zM522.8 234.8h9.4v9.4h-9.4zM525.3 220.6h9.4v9.4h-9.4zM527.8 226.5h9.4v9.4h-9.4zM527.8 220.6h9.4v9.4h-9.4zM530.3 220.6h9.4v9.4h-9.4zM532.8 220.6h9.4v9.4h-9.4zM535.3 220.6h9.4v9.4h-9.4zM537.8 226.5h9.4v9.4h-9.4zM545.3 226.5h9.4v9.4h-9.4zM547.8 226.5h9.4v9.4h-9.4zM550.3 226.5h9.4v9.4h-9.4z" fill="#00f"/>
</g>
<path d="M599.1 39.8l6.3 6.3l-6.3 6.3l-6.3-6.3z" fill="#f00"/>
<rect x="594.4" y="83.5" width="9.4" height="9.4" fill="#00f"/>
<path d="M168.12 18.8v8.8M168.12 255.3v-8.8M195.39 18.8v8.8M195.39 255.3v-8.8M214.74 18.8v8.8M214.74 255.3v-8.8M229.75 18.8v8.8M229.75 255.3v-8.8M242.02 18.8v8.8M242.02 255.3v-8.8M252.38 18.8v8.8M252.38 255.3v-8.8M261.37 18.8v8.8M261.37 255.3v-8.8M269.29 18.8v8.8M269.29 255.3v-8.8M276.38 18.8v15M276.38 255.3v-15M323.0 18.8v8.8M323.0 255.3v-8.8M350.27 18.8v8.8M350.27 255.3v-8.8M369.62 18.8v8.8M369.62 255.3v-8.8M384.63 18.8v8.8M384.63 255.3v-8.8M396.89 18.8v8.8M396.89 255.3v-8.8M407.26 18.8v8.8M407.26 255.3v-8.8M416.24 18.8v8.8M416.24 255.3v-8.8M424.16 18.8v8.8M424.16 255.3v-8.8M431.25 18.8v15M431.25 255.3v-15M477.87 18.8v8.8M477.87 255.3v-8.8M505.14 18.8v8.8M505.14 255.3v-8.8M524.49 18.8v8.8M524.49 255.3v-8.8M539.5 18.8v8.8M539.5 255.3v-8.8M551.77 18.8v8.8M551.77 255.3v-8.8M562.13 18.8v8.8M562.13 255.3v-8.8M571.12 18.8v8.8M571.12 255.3v-8.8M579.04 18.8v8.8M579.04 255.3v-8.8M586.12 18.8v15M586.12 255.3v-15M632.75 18.8v8.8M632.75 255.3v-8.8M660.02 18.8v8.8M660.02 255.3v-8.8M679.37 18.8v8.8M679.37 255.3v-8.8M694.38 18.8v8.8M694.38 255.3v-8.8M706.64 18.8v8.8M706.64 255.3v-8.8M717.01 18.8v8.8M717.01 255.3v-8.8M725.99 18.8v8.8M725.99 255.3v-8.8M733.91 18.8v8.8M733.91 255.3v-8.8M121.5 66.1h15M741.0 66.1h-15M121.5 51.86h8.8M741.0 51.86h-8.8M121.5 43.53h8.8M741.0 43.53h-8.8M121.5 37.62h8.8M741.0 37.62h-8.8M121.5 33.04h8.8M741.0 33.04h-8.8M121.5 29.29h8.8M741.0 29.29h-8.8M121.5 26.13h8.8M741.0 26.13h-8.8M121.5 23.38h8.8M741.0 23.38h-8.8M121.5 20.96h8.8M741.0 20.96h-8.8M121.5 113.4h15M741.0 113.4h-15M121.5 99.16h8.8M741.0 99.16h-8.8M121.5 90.83h8.8M741.0 90.83h-8.8M121.5 84.92h8.8M741.0 84.92h-8.8M121.5 80.34h8.8M741.0 80.34h-8.8M121.5 76.59h8.8M741.0 76.59h-8.8M121.5 73.43h8.8M741.0 73.43h-8.8M121.5 70.68h8.8M741.0 70.68h-8.8M121.5 68.26h8.8M741.0 68.26h-8.8M121.5 160.7h15M741.0 160.7h-15M121.5 146.46h8.8M741.0 146.46h-8.8M121.5 138.13h8.8M741.0 138.13h-8.8M121.5 132.22h8.8M741.0 132.22h-8.8M121.5 127.64h8.8M741.0 127.64h-8.8M121.5 123.89h8.8M741.0 123.89h-8.8M121.5 120.73h8.8M741.0 120.73h-8.8M121.5 117.98h8.8M741.0 117.98h-8.8M121.5 115.56h8.8M741.0 115.56h-8.8M121.5 208.0h15M741.0 208.0h-15M121.5 193.76h8.8M741.0 193.76h-8.8M121.5 185.43h8.8M741.0 185.43h-8.8M121.5 179.52h8.8M741.0 179.52h-8.8M121.5 174.94h8.8M741.0 174.94h-8.8M121.5 171.19h8.8M741.0 171.19h-8.8M121.5 168.03h8.8M741.0 168.03h-8.8M121.5 165.28h8.8M741.0 165.28h-8.8M121.5 162.86h8.8M741.0 162.86h-8.8M121.5 241.06h8.8M741.0 241.06h-8.8M121.5 232.73h8.8M741.0 232.73h-8.8M121.5 226.82h8.8M741.0 226.82h-8.8M121.5 222.24h8.8M741.0 222.24h-8.8M121.5 218.49h8.8M741.0 218.49h-8.8M121.5 215.33h8.8M741.0 215.33h-8.8M121.5 212.58h8.8M741.0 212.58h-8.8M121.5 210.16h8.8M741.0 210.16h-8.8" stroke="#000" stroke-width="1.7" fill="none"/>
<rect x="121.5" y="18.8" width="619.5" height="236.5" fill="none" stroke="#000" stroke-width="1.7"/>
<g class="t" font-size="24.3" fill="#555"><text x="116" y="29.7" text-anchor="end" letter-spacing="0.6">1</text><text x="116" y="76.5" text-anchor="end" letter-spacing="0.6">0.1</text><text x="116" y="124.1" text-anchor="end" letter-spacing="0.6">0.01</text><text x="116" y="171.7" text-anchor="end" letter-spacing="0.6">0.001</text><text x="116" y="219.1" text-anchor="end" letter-spacing="0.6">0.0001</text><text x="47.2" y="266.4" textLength="66.8" lengthAdjust="spacingAndGlyphs">1e−05</text><text x="121.8" y="291.3" text-anchor="middle" letter-spacing="0.6">1</text><text x="276.7" y="291.3" text-anchor="middle" letter-spacing="0.6">10</text><text x="431.5" y="291.3" text-anchor="middle" letter-spacing="0.6">100</text><text x="586.4" y="291.3" text-anchor="middle" letter-spacing="0.6">1,000</text><text x="741.3" y="291.3" text-anchor="middle" letter-spacing="0.6">10,000</text></g>
<g class="t" font-size="30" fill="#111">
<text x="645.7" y="58.5" textLength="63.7" lengthAdjust="spacingAndGlyphs">Paris</text>
<text x="645.7" y="100.1" textLength="84.8" lengthAdjust="spacingAndGlyphs">France</text>
<text x="371.5" y="335.9" textLength="121" lengthAdjust="spacingAndGlyphs">frequency</text>
<text x="504.5" y="335.9" font-style="italic" textLength="16.5" lengthAdjust="spacingAndGlyphs">x</text>
<g transform="translate(33.8 214.5) rotate(-90)">
<text x="-0.8" y="0" font-style="italic" font-size="32" textLength="21" lengthAdjust="spacingAndGlyphs">P</text>
<text x="18.6" y="0.3" font-size="33">(</text>
<text x="29.5" y="0">freq</text>
<text x="80.3" y="0.3" font-size="33">(</text>
<text x="89.9" y="0" font-style="italic">i</text>
<text x="95.9" y="0.3" font-size="33">)</text>
<path d="M111.4 -4.1h18.8M111.4 -10.9h18.8" stroke="#111" stroke-width="1.3"/>
<text x="134" y="0" font-style="italic" textLength="15" lengthAdjust="spacingAndGlyphs">x</text>
<text x="146.3" y="0.3" font-size="33">)</text>
</g>
</g>
</svg>
</body></html>
